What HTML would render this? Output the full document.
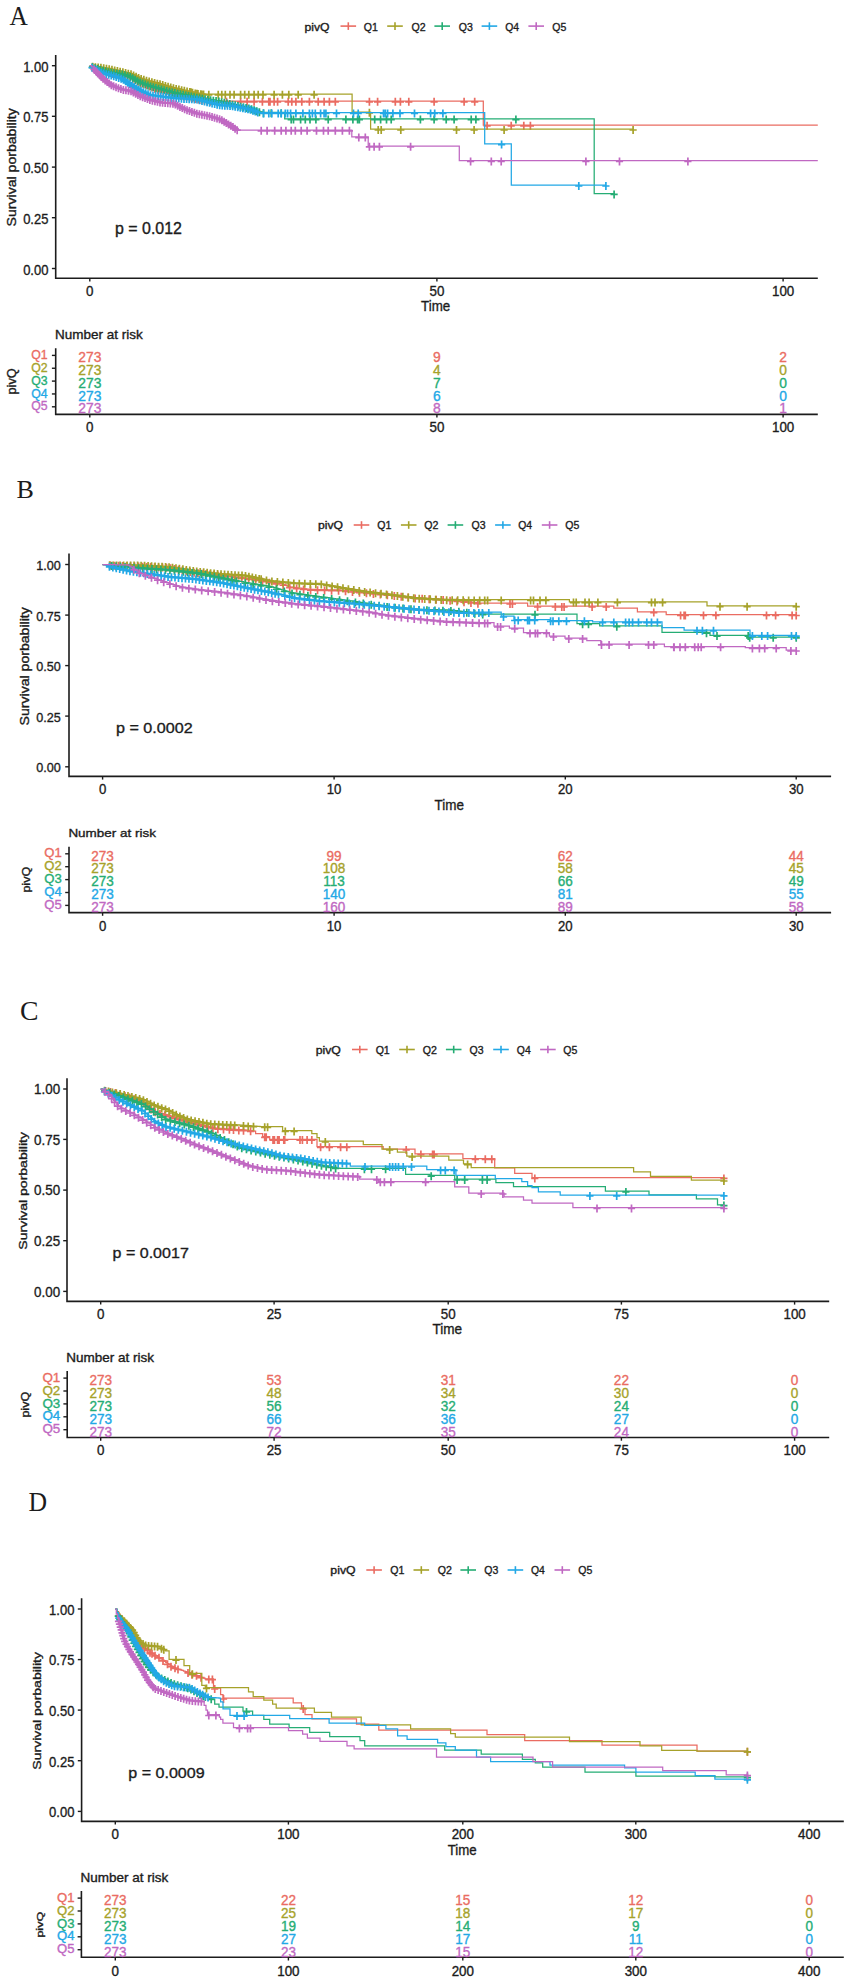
<!DOCTYPE html><html><head><meta charset="utf-8"><style>html,body{margin:0;padding:0;background:#fff;}svg{display:block}</style></head><body>
<svg width="850" height="1982" viewBox="0 0 850 1982">
<rect width="850" height="1982" fill="#fff"/>
<text transform="translate(9.45,24.70) scale(0.9207,1)" font-family="Liberation Serif" font-size="27.58" fill="#1c1c1c" stroke="#1c1c1c" stroke-width="0">A</text>
<text transform="translate(304.46,31.00) scale(1.0957,1)" font-family="Liberation Sans" font-size="11.13" fill="#1c1c1c" stroke="#1c1c1c" stroke-width="0.35">pivQ</text>
<line x1="340.50" y1="26.10" x2="356.10" y2="26.10" stroke="#EA6C62" stroke-width="1.6"/>
<line x1="348.30" y1="22.30" x2="348.30" y2="29.90" stroke="#EA6C62" stroke-width="1.6"/>
<text transform="translate(363.75,31.00) scale(0.9406,1)" font-family="Liberation Sans" font-size="11.25" fill="#1c1c1c" stroke="#1c1c1c" stroke-width="0.35">Q1</text>
<line x1="387.20" y1="26.10" x2="402.80" y2="26.10" stroke="#A6A22A" stroke-width="1.6"/>
<line x1="395.00" y1="22.30" x2="395.00" y2="29.90" stroke="#A6A22A" stroke-width="1.6"/>
<text transform="translate(411.55,31.00) scale(0.9425,1)" font-family="Liberation Sans" font-size="11.25" fill="#1c1c1c" stroke="#1c1c1c" stroke-width="0.35">Q2</text>
<line x1="434.40" y1="26.10" x2="450.00" y2="26.10" stroke="#25AD74" stroke-width="1.6"/>
<line x1="442.20" y1="22.30" x2="442.20" y2="29.90" stroke="#25AD74" stroke-width="1.6"/>
<text transform="translate(458.85,31.00) scale(0.9368,1)" font-family="Liberation Sans" font-size="11.25" fill="#1c1c1c" stroke="#1c1c1c" stroke-width="0.35">Q3</text>
<line x1="481.60" y1="26.10" x2="497.20" y2="26.10" stroke="#22A8E6" stroke-width="1.6"/>
<line x1="489.40" y1="22.30" x2="489.40" y2="29.90" stroke="#22A8E6" stroke-width="1.6"/>
<text transform="translate(505.26,31.00) scale(0.9256,1)" font-family="Liberation Sans" font-size="11.25" fill="#1c1c1c" stroke="#1c1c1c" stroke-width="0.35">Q4</text>
<line x1="528.40" y1="26.10" x2="544.00" y2="26.10" stroke="#C068C2" stroke-width="1.6"/>
<line x1="536.20" y1="22.30" x2="536.20" y2="29.90" stroke="#C068C2" stroke-width="1.6"/>
<text transform="translate(552.35,31.00) scale(0.9349,1)" font-family="Liberation Sans" font-size="11.25" fill="#1c1c1c" stroke="#1c1c1c" stroke-width="0.35">Q5</text>
<path d="M55.70,55.10 V278.20 H817.80" fill="none" stroke="#1c1c1c" stroke-width="1.6"/>
<line x1="51.90" y1="65.70" x2="55.70" y2="65.70" stroke="#1c1c1c" stroke-width="1.4"/>
<text transform="translate(48.40,71.75) scale(0.8546,1)" font-family="Liberation Sans" font-size="15.20" fill="#1c1c1c" stroke="#1c1c1c" stroke-width="0.35" text-anchor="end">1.00</text>
<line x1="51.90" y1="116.30" x2="55.70" y2="116.30" stroke="#1c1c1c" stroke-width="1.4"/>
<text transform="translate(48.40,122.35) scale(0.8546,1)" font-family="Liberation Sans" font-size="15.20" fill="#1c1c1c" stroke="#1c1c1c" stroke-width="0.35" text-anchor="end">0.75</text>
<line x1="51.90" y1="167.10" x2="55.70" y2="167.10" stroke="#1c1c1c" stroke-width="1.4"/>
<text transform="translate(48.40,173.15) scale(0.8546,1)" font-family="Liberation Sans" font-size="15.20" fill="#1c1c1c" stroke="#1c1c1c" stroke-width="0.35" text-anchor="end">0.50</text>
<line x1="51.90" y1="217.70" x2="55.70" y2="217.70" stroke="#1c1c1c" stroke-width="1.4"/>
<text transform="translate(48.40,223.75) scale(0.8546,1)" font-family="Liberation Sans" font-size="15.20" fill="#1c1c1c" stroke="#1c1c1c" stroke-width="0.35" text-anchor="end">0.25</text>
<line x1="51.90" y1="268.50" x2="55.70" y2="268.50" stroke="#1c1c1c" stroke-width="1.4"/>
<text transform="translate(48.40,274.55) scale(0.8546,1)" font-family="Liberation Sans" font-size="15.20" fill="#1c1c1c" stroke="#1c1c1c" stroke-width="0.35" text-anchor="end">0.00</text>
<line x1="89.80" y1="278.20" x2="89.80" y2="281.40" stroke="#1c1c1c" stroke-width="1.4"/>
<text transform="translate(89.80,295.80) scale(0.9330,1)" font-family="Liberation Sans" font-size="14.34" fill="#1c1c1c" stroke="#1c1c1c" stroke-width="0.35" text-anchor="middle">0</text>
<line x1="436.90" y1="278.20" x2="436.90" y2="281.40" stroke="#1c1c1c" stroke-width="1.4"/>
<text transform="translate(436.90,295.80) scale(0.9330,1)" font-family="Liberation Sans" font-size="14.34" fill="#1c1c1c" stroke="#1c1c1c" stroke-width="0.35" text-anchor="middle">50</text>
<line x1="783.10" y1="278.20" x2="783.10" y2="281.40" stroke="#1c1c1c" stroke-width="1.4"/>
<text transform="translate(783.10,295.80) scale(0.9330,1)" font-family="Liberation Sans" font-size="14.34" fill="#1c1c1c" stroke="#1c1c1c" stroke-width="0.35" text-anchor="middle">100</text>
<text transform="translate(421.10,311.40) scale(0.9633,1)" font-family="Liberation Sans" font-size="13.86" fill="#1c1c1c" stroke="#1c1c1c" stroke-width="0.35">Time</text>
<text transform="translate(16.00,226.43) rotate(-90) scale(1.1232,1)" font-family="Liberation Sans" font-size="12.55" fill="#1c1c1c" stroke="#1c1c1c" stroke-width="0.35">Survival porbability</text>
<text transform="translate(115.06,234.40) scale(1.0111,1)" font-family="Liberation Sans" font-size="15.77" fill="#1c1c1c" stroke="#1c1c1c" stroke-width="0.35">p = 0.012</text>
<path d="M89.80,65.70H91.45V66.24H93.10V66.78H94.75V67.31H96.40V67.85H98.05V68.39H99.70V68.92H101.35V69.46H103.00V70.00H104.50V70.50H106.00V71.00H107.50V71.50H109.00V72.00H110.50V72.50H112.00V73.00H113.57V73.29H115.14V73.57H116.71V73.86H118.29V74.14H119.86V74.43H121.43V74.71H123.00V75.00H124.60V75.40H126.20V75.80H127.80V76.20H129.40V76.60H131.00V77.00H132.50V77.83H134.00V78.67H135.50V79.50H137.00V80.33H138.50V81.17H140.00V82.00H141.67V82.67H143.33V83.33H145.00V84.00H146.67V84.67H148.33V85.33H150.00V86.00H151.67V86.67H153.33V87.33H155.00V88.00H156.67V88.67H158.33V89.33H160.00V90.00H161.67V90.42H163.33V90.83H165.00V91.25H166.67V91.67H168.33V92.08H170.00V92.50H171.67V92.92H173.33V93.33H175.00V93.75H176.67V94.17H178.33V94.58H180.00V95.00H181.67V95.33H183.33V95.67H185.00V96.00H186.67V96.33H188.33V96.67H190.00V97.00H191.67V97.33H193.33V97.67H195.00V98.00H196.67V98.33H198.33V98.67H200.00V99.00H201.57V99.29H203.14V99.57H204.71V99.86H206.29V100.14H207.86V100.43H209.43V100.71H211.00V101.00H483.30V125.00H817.80V125.00" fill="none" stroke="#EA6C62" stroke-width="1.25"/>
<path d="M89.05,67.43h7.2M92.65,63.43v8M91.90,68.36h7.2M95.50,64.36v8M94.76,69.29h7.2M98.36,65.29v8M97.61,70.22h7.2M101.21,66.22v8M100.46,71.15h7.2M104.06,67.15v8M103.31,72.10h7.2M106.91,68.10v8M106.15,73.05h7.2M109.75,69.05v8M109.02,73.91h7.2M112.62,69.91v8M111.97,74.45h7.2M115.57,70.45v8M114.92,74.99h7.2M118.52,70.99v8M117.88,75.52h7.2M121.48,71.52v8M120.81,76.15h7.2M124.41,72.15v8M123.72,76.88h7.2M127.32,72.88v8M126.63,77.61h7.2M130.23,73.61v8M129.33,78.87h7.2M132.93,74.87v8M131.95,80.33h7.2M135.55,76.33v8M134.57,81.78h7.2M138.17,77.78v8M137.24,83.14h7.2M140.84,79.14v8M140.03,84.25h7.2M143.63,80.25v8M142.81,85.37h7.2M146.41,81.37v8M145.60,86.48h7.2M149.20,82.48v8M148.39,87.59h7.2M151.99,83.59v8M151.17,88.71h7.2M154.77,84.71v8M153.96,89.82h7.2M157.56,85.82v8M156.76,90.89h7.2M160.36,86.89v8M159.67,91.62h7.2M163.27,87.62v8M162.58,92.34h7.2M166.18,88.34v8M165.49,93.07h7.2M169.09,89.07v8M168.40,93.80h7.2M172.00,89.80v8M171.31,94.53h7.2M174.91,90.53v8M174.22,95.25h7.2M177.82,91.25v8M177.14,95.95h7.2M180.74,91.95v8M180.08,96.54h7.2M183.68,92.54v8M183.02,97.12h7.2M186.62,93.12v8M185.96,97.71h7.2M189.56,93.71v8M188.90,98.30h7.2M192.50,94.30v8M191.85,98.89h7.2M195.45,94.89v8M194.79,99.48h7.2M198.39,95.48v8M197.73,100.04h7.2M201.33,96.04v8M200.69,100.58h7.2M204.29,96.58v8M203.64,101.12h7.2M207.24,97.12v8M206.59,101.65h7.2M210.19,97.65v8M222.90,101.80h7.2M226.50,97.80v8M237.00,101.80h7.2M240.60,97.80v8M243.50,101.80h7.2M247.10,97.80v8M250.50,101.80h7.2M254.10,97.80v8M258.80,101.80h7.2M262.40,97.80v8M265.20,101.80h7.2M268.80,97.80v8M266.40,101.80h7.2M270.00,97.80v8M270.50,101.80h7.2M274.10,97.80v8M274.00,101.80h7.2M277.60,97.80v8M284.60,101.80h7.2M288.20,97.80v8M288.20,101.80h7.2M291.80,97.80v8M292.30,101.80h7.2M295.90,97.80v8M298.20,101.80h7.2M301.80,97.80v8M305.80,101.80h7.2M309.40,97.80v8M314.60,101.80h7.2M318.20,97.80v8M320.50,101.80h7.2M324.10,97.80v8M325.80,101.80h7.2M329.40,97.80v8M331.70,101.80h7.2M335.30,97.80v8M365.80,101.80h7.2M369.40,97.80v8M374.00,101.80h7.2M377.60,97.80v8M391.70,101.80h7.2M395.30,97.80v8M396.80,101.80h7.2M400.40,97.80v8M405.20,101.80h7.2M408.80,97.80v8M430.50,101.80h7.2M434.10,97.80v8M460.50,101.80h7.2M464.10,97.80v8M471.10,101.80h7.2M474.70,97.80v8M483.50,125.80h7.2M487.10,121.80v8M507.60,125.80h7.2M511.20,121.80v8M520.20,125.80h7.2M523.80,121.80v8M526.80,125.80h7.2M530.40,121.80v8" fill="none" stroke="#EA6C62" stroke-width="1.7"/>
<path d="M89.80,65.70H91.45V65.90H93.10V66.10H94.75V66.30H96.40V66.50H98.05V66.70H99.70V66.90H101.35V67.10H103.00V67.30H104.53V67.58H106.07V67.87H107.60V68.15H109.13V68.43H110.67V68.72H112.20V69.00H113.71V69.36H115.23V69.71H116.74V70.07H118.26V70.43H119.77V70.79H121.29V71.14H122.80V71.50H124.46V71.90H126.12V72.30H127.78V72.70H129.44V73.10H131.10V73.50H132.67V74.25H134.23V75.00H135.80V75.75H137.37V76.50H138.93V77.25H140.50V78.00H142.08V78.50H143.67V79.00H145.25V79.50H146.83V80.00H148.42V80.50H150.00V81.00H151.67V81.42H153.33V81.83H155.00V82.25H156.67V82.67H158.33V83.08H160.00V83.50H161.69V84.00H163.38V84.50H165.06V85.00H166.75V85.50H168.44V86.00H170.12V86.50H171.81V87.00H173.50V87.50H175.07V87.87H176.63V88.23H178.20V88.60H179.77V88.97H181.33V89.33H182.90V89.70H184.47V90.07H186.03V90.43H187.60V90.80H189.17V91.17H190.73V91.53H192.30V91.90H193.87V92.27H195.43V92.63H197.00V93.00H198.60V93.20H200.20V93.40H201.80V93.60H203.40V93.80H205.00V94.00H352.10V112.00H370.60V129.20H633.10V129.20" fill="none" stroke="#A6A22A" stroke-width="1.25"/>
<path d="M88.98,66.84h7.2M92.58,62.84v8M91.76,67.17h7.2M95.36,63.17v8M94.54,67.51h7.2M98.14,63.51v8M97.32,67.85h7.2M100.92,63.85v8M100.09,68.23h7.2M103.69,64.23v8M102.85,68.74h7.2M106.45,64.74v8M105.60,69.25h7.2M109.20,65.25v8M108.35,69.75h7.2M111.95,65.75v8M111.08,70.38h7.2M114.68,66.38v8M113.80,71.03h7.2M117.40,67.03v8M116.53,71.67h7.2M120.13,67.67v8M119.26,72.31h7.2M122.86,68.31v8M121.98,72.97h7.2M125.58,68.97v8M124.70,73.63h7.2M128.30,69.63v8M127.42,74.28h7.2M131.02,70.28v8M129.95,75.47h7.2M133.55,71.47v8M132.48,76.68h7.2M136.08,72.68v8M135.00,77.89h7.2M138.60,73.89v8M137.57,79.01h7.2M141.17,75.01v8M140.24,79.85h7.2M143.84,75.85v8M142.91,80.70h7.2M146.51,76.70v8M145.58,81.54h7.2M149.18,77.54v8M148.28,82.27h7.2M151.88,78.27v8M150.99,82.95h7.2M154.59,78.95v8M153.71,83.63h7.2M157.31,79.63v8M156.43,84.31h7.2M160.03,80.31v8M159.11,85.10h7.2M162.71,81.10v8M161.80,85.90h7.2M165.40,81.90v8M164.48,86.69h7.2M168.08,82.69v8M167.16,87.49h7.2M170.76,83.49v8M169.85,88.29h7.2M173.45,84.29v8M172.58,88.93h7.2M176.18,84.93v8M175.30,89.56h7.2M178.90,85.56v8M178.03,90.20h7.2M181.63,86.20v8M180.75,90.84h7.2M184.35,86.84v8M183.48,91.48h7.2M187.08,87.48v8M186.21,92.12h7.2M189.81,88.12v8M188.93,92.75h7.2M192.53,88.75v8M191.66,93.39h7.2M195.26,89.39v8M194.40,93.93h7.2M198.00,89.93v8M197.18,94.27h7.2M200.78,90.27v8M199.96,94.62h7.2M203.56,90.62v8M187.40,92.33h7.2M191.00,88.33v8M193.40,93.80h7.2M197.00,89.80v8M198.20,94.40h7.2M201.80,90.40v8M205.20,94.80h7.2M208.80,90.80v8M214.60,94.80h7.2M218.20,90.80v8M218.20,94.80h7.2M221.80,90.80v8M221.70,94.80h7.2M225.30,90.80v8M226.40,94.80h7.2M230.00,90.80v8M230.50,94.80h7.2M234.10,90.80v8M237.00,94.80h7.2M240.60,90.80v8M241.10,94.80h7.2M244.70,90.80v8M245.20,94.80h7.2M248.80,90.80v8M250.50,94.80h7.2M254.10,90.80v8M254.60,94.80h7.2M258.20,90.80v8M259.40,94.80h7.2M263.00,90.80v8M270.50,94.80h7.2M274.10,90.80v8M278.80,94.80h7.2M282.40,90.80v8M285.20,94.80h7.2M288.80,90.80v8M294.60,94.80h7.2M298.20,90.80v8M310.50,94.80h7.2M314.10,90.80v8M365.80,112.80h7.2M369.40,108.80v8M374.60,130.00h7.2M378.20,126.00v8M377.60,130.00h7.2M381.20,126.00v8M397.20,130.00h7.2M400.80,126.00v8M452.90,130.00h7.2M456.50,126.00v8M470.50,130.00h7.2M474.10,126.00v8M500.50,130.00h7.2M504.10,126.00v8M629.50,130.00h7.2M633.10,126.00v8" fill="none" stroke="#A6A22A" stroke-width="1.7"/>
<path d="M89.80,65.70H91.45V66.24H93.10V66.78H94.75V67.31H96.40V67.85H98.05V68.39H99.70V68.92H101.35V69.46H103.00V70.00H104.53V70.37H106.07V70.73H107.60V71.10H109.13V71.47H110.67V71.83H112.20V72.20H113.71V72.43H115.23V72.66H116.74V72.89H118.26V73.11H119.77V73.34H121.29V73.57H122.80V73.80H124.46V74.34H126.12V74.88H127.78V75.42H129.44V75.96H131.10V76.50H132.67V77.42H134.23V78.33H135.80V79.25H137.37V80.17H138.93V81.08H140.50V82.00H142.08V82.58H143.67V83.17H145.25V83.75H146.83V84.33H148.42V84.92H150.00V85.50H151.57V85.93H153.13V86.37H154.70V86.80H156.27V87.23H157.83V87.67H159.40V88.10H160.97V88.53H162.53V88.97H164.10V89.40H165.67V89.83H167.23V90.27H168.80V90.70H170.37V91.13H171.93V91.57H173.50V92.00H175.07V92.33H176.63V92.67H178.20V93.00H179.77V93.33H181.33V93.67H182.90V94.00H184.47V94.33H186.03V94.67H187.60V95.00H189.17V95.33H190.73V95.67H192.30V96.00H193.87V96.33H195.43V96.67H197.00V97.00H198.64V97.29H200.29V97.57H201.93V97.86H203.57V98.14H205.21V98.43H206.86V98.71H208.50V99.00H210.14V99.29H211.79V99.57H213.43V99.86H215.07V100.14H216.71V100.43H218.36V100.71H220.00V101.00H221.58V101.37H223.16V101.74H224.74V102.11H226.32V102.47H227.89V102.84H229.47V103.21H231.05V103.58H232.63V103.95H234.21V104.32H235.79V104.68H237.37V105.05H238.95V105.42H240.53V105.79H242.11V106.16H243.68V106.53H245.26V106.89H246.84V107.26H248.42V107.63H250.00V108.00H251.50V108.55H253.00V109.10H254.50V109.65H256.00V110.20H257.50V110.75H259.00V111.30H260.50V111.85H262.00V112.40H284.70V118.80H594.20V193.60H614.10V193.60" fill="none" stroke="#25AD74" stroke-width="1.25"/>
<path d="M88.86,67.37h7.2M92.46,63.37v8M91.52,68.23h7.2M95.12,64.23v8M94.19,69.10h7.2M97.79,65.10v8M96.85,69.97h7.2M100.45,65.97v8M99.51,70.83h7.2M103.11,66.83v8M102.24,71.48h7.2M105.84,67.48v8M104.96,72.13h7.2M108.56,68.13v8M107.68,72.78h7.2M111.28,68.78v8M110.44,73.28h7.2M114.04,69.28v8M113.21,73.70h7.2M116.81,69.70v8M115.97,74.11h7.2M119.57,70.11v8M118.74,74.53h7.2M122.34,70.53v8M121.42,75.32h7.2M125.02,71.32v8M124.09,76.19h7.2M127.69,72.19v8M126.75,77.06h7.2M130.35,73.06v8M129.23,78.31h7.2M132.83,74.31v8M131.65,79.73h7.2M135.25,75.73v8M134.07,81.14h7.2M137.67,77.14v8M136.48,82.56h7.2M140.08,78.56v8M139.08,83.60h7.2M142.68,79.60v8M141.70,84.57h7.2M145.30,80.57v8M144.33,85.54h7.2M147.93,81.54v8M146.97,86.46h7.2M150.57,82.46v8M149.67,87.20h7.2M153.27,83.20v8M152.37,87.95h7.2M155.97,83.95v8M155.07,88.70h7.2M158.67,84.70v8M157.77,89.44h7.2M161.37,85.44v8M160.47,90.19h7.2M164.07,86.19v8M163.17,90.94h7.2M166.77,86.94v8M165.86,91.68h7.2M169.46,87.68v8M168.56,92.43h7.2M172.16,88.43v8M171.28,93.09h7.2M174.88,89.09v8M174.02,93.68h7.2M177.62,89.68v8M176.76,94.26h7.2M180.36,90.26v8M179.50,94.84h7.2M183.10,90.84v8M182.24,95.42h7.2M185.84,91.42v8M184.97,96.01h7.2M188.57,92.01v8M187.71,96.59h7.2M191.31,92.59v8M190.45,97.17h7.2M194.05,93.17v8M193.19,97.76h7.2M196.79,93.76v8M195.95,98.24h7.2M199.55,94.24v8M198.71,98.72h7.2M202.31,94.72v8M201.47,99.20h7.2M205.07,95.20v8M204.22,99.68h7.2M207.82,95.68v8M206.98,100.16h7.2M210.58,96.16v8M209.74,100.64h7.2M213.34,96.64v8M212.50,101.12h7.2M216.10,97.12v8M215.26,101.60h7.2M218.86,97.60v8M218.00,102.17h7.2M221.60,98.17v8M220.72,102.81h7.2M224.32,98.81v8M223.45,103.45h7.2M227.05,99.45v8M226.18,104.08h7.2M229.78,100.08v8M228.91,104.72h7.2M232.51,100.72v8M231.63,105.35h7.2M235.23,101.35v8M234.36,105.99h7.2M237.96,101.99v8M237.09,106.63h7.2M240.69,102.63v8M239.81,107.26h7.2M243.41,103.26v8M242.54,107.90h7.2M246.14,103.90v8M245.27,108.54h7.2M248.87,104.54v8M247.94,109.36h7.2M251.54,105.36v8M250.56,110.33h7.2M254.16,106.33v8M253.19,111.29h7.2M256.79,107.29v8M255.82,112.25h7.2M259.42,108.25v8M259.90,113.20h7.2M263.50,109.20v8M267.60,113.20h7.2M271.20,109.20v8M277.60,113.20h7.2M281.20,109.20v8M287.60,119.60h7.2M291.20,115.60v8M289.90,119.60h7.2M293.50,115.60v8M297.00,119.60h7.2M300.60,115.60v8M301.70,119.60h7.2M305.30,115.60v8M306.40,119.60h7.2M310.00,115.60v8M312.30,119.60h7.2M315.90,115.60v8M324.60,119.60h7.2M328.20,115.60v8M342.30,119.60h7.2M345.90,115.60v8M349.30,119.60h7.2M352.90,115.60v8M354.00,119.60h7.2M357.60,115.60v8M355.80,119.60h7.2M359.40,115.60v8M371.10,119.60h7.2M374.70,115.60v8M377.00,119.60h7.2M380.60,115.60v8M382.90,119.60h7.2M386.50,115.60v8M387.60,119.60h7.2M391.20,115.60v8M416.80,119.60h7.2M420.40,115.60v8M430.50,119.60h7.2M434.10,115.60v8M442.60,119.60h7.2M446.20,115.60v8M450.50,119.60h7.2M454.10,115.60v8M467.60,119.60h7.2M471.20,115.60v8M472.30,119.60h7.2M475.90,115.60v8M512.30,119.60h7.2M515.90,115.60v8M610.50,194.40h7.2M614.10,190.40v8" fill="none" stroke="#25AD74" stroke-width="1.7"/>
<path d="M89.80,65.70H91.45V66.55H93.10V67.40H94.75V68.25H96.40V69.10H98.05V69.95H99.70V70.80H101.35V71.65H103.00V72.50H104.53V72.92H106.07V73.33H107.60V73.75H109.13V74.17H110.67V74.58H112.20V75.00H113.71V75.50H115.23V76.00H116.74V76.50H118.26V77.00H119.77V77.50H121.29V78.00H122.80V78.50H124.46V79.70H126.12V80.90H127.78V82.10H129.44V83.30H131.10V84.50H132.67V85.42H134.23V86.33H135.80V87.25H137.37V88.17H138.93V89.08H140.50V90.00H142.08V90.75H143.67V91.50H145.25V92.25H146.83V93.00H148.42V93.75H150.00V94.50H151.57V94.70H153.13V94.90H154.70V95.10H156.27V95.30H157.83V95.50H159.40V95.70H160.97V95.90H162.53V96.10H164.10V96.30H165.67V96.50H167.23V96.70H168.80V96.90H170.37V97.10H171.93V97.30H173.50V97.50H175.07V97.59H176.63V97.67H178.20V97.76H179.77V97.85H181.33V97.93H182.90V98.02H184.47V98.11H186.03V98.19H187.60V98.28H189.17V98.37H190.73V98.45H192.30V98.54H193.87V98.63H195.43V98.71H197.00V98.80H198.69V99.23H200.37V99.66H202.06V100.09H203.74V100.51H205.43V100.94H207.11V101.37H208.80V101.80H210.49V102.21H212.17V102.63H213.86V103.04H215.54V103.46H217.23V103.87H218.91V104.29H220.60V104.70H222.29V104.79H223.97V104.87H225.66V104.96H227.34V105.04H229.03V105.13H230.71V105.21H232.40V105.30H234.00V105.62H235.60V105.94H237.20V106.25H238.80V106.57H240.40V106.89H242.00V107.21H243.60V107.53H245.20V107.85H246.80V108.16H248.40V108.48H250.00V108.80H251.67V109.43H253.33V110.07H255.00V110.70H256.67V111.33H258.33V111.97H260.00V112.60H484.70V143.80H511.30V185.20H605.90V185.20" fill="none" stroke="#22A8E6" stroke-width="1.25"/>
<path d="M88.51,67.69h7.2M92.11,63.69v8M90.82,68.88h7.2M94.42,64.88v8M93.13,70.07h7.2M96.73,66.07v8M95.45,71.26h7.2M99.05,67.26v8M97.76,72.45h7.2M101.36,68.45v8M100.13,73.50h7.2M103.73,69.50v8M102.63,74.18h7.2M106.23,70.18v8M105.14,74.86h7.2M108.74,70.86v8M107.65,75.54h7.2M111.25,71.54v8M110.14,76.31h7.2M113.74,72.31v8M112.61,77.12h7.2M116.21,73.12v8M115.07,77.94h7.2M118.67,73.94v8M117.54,78.75h7.2M121.14,74.75v8M119.89,79.80h7.2M123.49,75.80v8M122.00,81.32h7.2M125.60,77.32v8M124.11,82.85h7.2M127.71,78.85v8M126.21,84.37h7.2M129.81,80.37v8M128.37,85.81h7.2M131.97,81.81v8M130.62,87.12h7.2M134.22,83.12v8M132.86,88.44h7.2M136.46,84.44v8M135.11,89.75h7.2M138.71,85.75v8M137.37,91.02h7.2M140.97,87.02v8M139.72,92.14h7.2M143.32,88.14v8M142.07,93.25h7.2M145.67,89.25v8M144.42,94.36h7.2M148.02,90.36v8M146.81,95.35h7.2M150.41,91.35v8M149.39,95.68h7.2M152.99,91.68v8M151.97,96.01h7.2M155.57,92.01v8M154.54,96.34h7.2M158.14,92.34v8M157.12,96.67h7.2M160.72,92.67v8M159.70,97.00h7.2M163.30,93.00v8M162.28,97.33h7.2M165.88,93.33v8M164.86,97.66h7.2M168.46,93.66v8M167.44,97.99h7.2M171.04,93.99v8M170.02,98.31h7.2M173.62,94.31v8M172.62,98.45h7.2M176.22,94.45v8M175.21,98.59h7.2M178.81,94.59v8M177.81,98.74h7.2M181.41,94.74v8M180.40,98.88h7.2M184.00,94.88v8M183.00,99.02h7.2M186.60,95.02v8M185.60,99.17h7.2M189.20,95.17v8M188.19,99.31h7.2M191.79,95.31v8M190.79,99.46h7.2M194.39,95.46v8M193.38,99.60h7.2M196.98,95.60v8M195.90,100.24h7.2M199.50,96.24v8M198.42,100.88h7.2M202.02,96.88v8M200.94,101.52h7.2M204.54,97.52v8M203.46,102.16h7.2M207.06,98.16v8M205.99,102.79h7.2M209.59,98.79v8M208.51,103.41h7.2M212.11,99.41v8M211.03,104.03h7.2M214.63,100.03v8M213.56,104.65h7.2M217.16,100.65v8M216.08,105.28h7.2M219.68,101.28v8M218.66,105.58h7.2M222.26,101.58v8M221.25,105.72h7.2M224.85,101.72v8M223.85,105.85h7.2M227.45,101.85v8M226.45,105.98h7.2M230.05,101.98v8M229.04,106.15h7.2M232.64,102.15v8M231.59,106.65h7.2M235.19,102.65v8M234.14,107.16h7.2M237.74,103.16v8M236.69,107.67h7.2M240.29,103.67v8M239.24,108.18h7.2M242.84,104.18v8M241.79,108.68h7.2M245.39,104.68v8M244.34,109.19h7.2M247.94,105.19v8M246.87,109.78h7.2M250.47,105.78v8M249.30,110.70h7.2M252.90,106.70v8M251.73,111.62h7.2M255.33,107.62v8M254.16,112.55h7.2M257.76,108.55v8M259.90,113.40h7.2M263.50,109.40v8M265.20,113.40h7.2M268.80,109.40v8M268.20,113.40h7.2M271.80,109.40v8M274.60,113.40h7.2M278.20,109.40v8M277.60,113.40h7.2M281.20,109.40v8M281.70,113.40h7.2M285.30,109.40v8M284.00,113.40h7.2M287.60,109.40v8M287.00,113.40h7.2M290.60,109.40v8M292.30,113.40h7.2M295.90,109.40v8M299.30,113.40h7.2M302.90,109.40v8M305.80,113.40h7.2M309.40,109.40v8M308.80,113.40h7.2M312.40,109.40v8M311.70,113.40h7.2M315.30,109.40v8M317.00,113.40h7.2M320.60,109.40v8M320.50,113.40h7.2M324.10,109.40v8M322.30,113.40h7.2M325.90,109.40v8M332.90,113.40h7.2M336.50,109.40v8M349.90,113.40h7.2M353.50,109.40v8M354.60,113.40h7.2M358.20,109.40v8M379.90,113.40h7.2M383.50,109.40v8M381.70,113.40h7.2M385.30,109.40v8M384.00,113.40h7.2M387.60,109.40v8M389.30,113.40h7.2M392.90,109.40v8M396.40,113.40h7.2M400.00,109.40v8M410.90,113.40h7.2M414.50,109.40v8M427.00,113.40h7.2M430.60,109.40v8M431.10,113.40h7.2M434.70,109.40v8M439.30,113.40h7.2M442.90,109.40v8M498.00,144.60h7.2M501.60,140.60v8M575.20,186.00h7.2M578.80,182.00v8M602.30,186.00h7.2M605.90,182.00v8" fill="none" stroke="#22A8E6" stroke-width="1.7"/>
<path d="M89.80,65.70H91.60V66.85H93.40V68.00H95.00V69.67H96.60V71.33H98.20V73.00H99.80V74.67H101.40V76.33H103.00V78.00H104.53V79.17H106.07V80.33H107.60V81.50H109.13V82.67H110.67V83.83H112.20V85.00H113.71V85.57H115.23V86.14H116.74V86.71H118.26V87.29H119.77V87.86H121.29V88.43H122.80V89.00H124.46V89.30H126.12V89.60H127.78V89.90H129.44V90.20H131.10V90.50H132.67V91.33H134.23V92.17H135.80V93.00H137.37V93.83H138.93V94.67H140.50V95.50H142.08V96.13H143.67V96.77H145.25V97.40H146.83V98.03H148.42V98.67H150.00V99.30H151.69V99.69H153.37V100.07H155.06V100.46H156.74V100.84H158.43V101.23H160.11V101.61H161.80V102.00H163.47V102.13H165.14V102.26H166.81V102.39H168.49V102.51H170.16V102.64H171.83V102.77H173.50V102.90H175.19V103.74H176.87V104.59H178.56V105.43H180.24V106.27H181.93V107.11H183.61V107.96H185.30V108.80H186.97V109.39H188.64V109.97H190.31V110.56H191.99V111.14H193.66V111.73H195.33V112.31H197.00V112.90H198.69V113.24H200.37V113.59H202.06V113.93H203.74V114.27H205.43V114.61H207.11V114.96H208.80V115.30H210.49V115.80H212.17V116.30H213.86V116.80H215.54V117.30H217.23V117.80H218.91V118.30H220.60V118.80H222.29V119.81H223.97V120.83H225.66V121.84H227.34V122.86H229.03V123.87H230.71V124.89H232.40V125.90H234.27V127.27H236.13V128.63H238.00V130.00H351.80V136.80H368.20V146.00H459.30V160.70H817.80V160.70" fill="none" stroke="#C068C2" stroke-width="1.25"/>
<path d="M90.44,69.47h7.2M94.04,65.47v8M92.24,71.35h7.2M95.84,67.35v8M94.04,73.22h7.2M97.64,69.22v8M95.84,75.10h7.2M99.44,71.10v8M97.64,76.97h7.2M101.24,72.97v8M99.45,78.84h7.2M103.05,74.84v8M101.52,80.41h7.2M105.12,76.41v8M103.59,81.99h7.2M107.19,77.99v8M105.66,83.56h7.2M109.26,79.56v8M107.73,85.14h7.2M111.33,81.14v8M110.01,86.33h7.2M113.61,82.33v8M112.44,87.25h7.2M116.04,83.25v8M114.87,88.17h7.2M118.47,84.17v8M117.31,89.09h7.2M120.91,85.09v8M119.77,89.90h7.2M123.37,85.90v8M122.33,90.36h7.2M125.93,86.36v8M124.88,90.83h7.2M128.48,86.83v8M127.44,91.29h7.2M131.04,87.29v8M129.74,92.49h7.2M133.34,88.49v8M132.04,93.71h7.2M135.64,89.71v8M134.33,94.94h7.2M137.93,90.94v8M136.63,96.16h7.2M140.23,92.16v8M139.03,97.15h7.2M142.63,93.15v8M141.44,98.12h7.2M145.04,94.12v8M143.86,99.08h7.2M147.46,95.08v8M146.27,100.05h7.2M149.87,96.05v8M148.80,100.65h7.2M152.40,96.65v8M151.34,101.23h7.2M154.94,97.23v8M153.87,101.81h7.2M157.47,97.81v8M156.40,102.39h7.2M160.00,98.39v8M158.96,102.86h7.2M162.56,98.86v8M161.55,103.06h7.2M165.15,99.06v8M164.14,103.26h7.2M167.74,99.26v8M166.73,103.46h7.2M170.33,99.46v8M169.32,103.66h7.2M172.92,99.66v8M171.71,104.60h7.2M175.31,100.60v8M174.04,105.77h7.2M177.64,101.77v8M176.36,106.93h7.2M179.96,102.93v8M178.69,108.09h7.2M182.29,104.09v8M181.01,109.26h7.2M184.61,105.26v8M183.43,110.21h7.2M187.03,106.21v8M185.88,111.07h7.2M189.48,107.07v8M188.33,111.92h7.2M191.93,107.92v8M190.79,112.78h7.2M194.39,108.78v8M193.24,113.64h7.2M196.84,109.64v8M195.78,114.18h7.2M199.38,110.18v8M198.33,114.70h7.2M201.93,110.70v8M200.88,115.22h7.2M204.48,111.22v8M203.43,115.74h7.2M207.03,111.74v8M205.96,116.32h7.2M209.56,112.32v8M208.45,117.06h7.2M212.05,113.06v8M210.94,117.80h7.2M214.54,113.80v8M213.44,118.54h7.2M217.04,114.54v8M215.93,119.28h7.2M219.53,115.28v8M218.27,120.36h7.2M221.87,116.36v8M220.50,121.71h7.2M224.10,117.71v8M222.73,123.05h7.2M226.33,119.05v8M224.95,124.39h7.2M228.55,120.39v8M227.18,125.73h7.2M230.78,121.73v8M229.37,127.12h7.2M232.97,123.12v8M231.47,128.66h7.2M235.07,124.66v8M233.57,130.19h7.2M237.17,126.19v8M257.60,130.80h7.2M261.20,126.80v8M263.50,130.80h7.2M267.10,126.80v8M271.10,130.80h7.2M274.70,126.80v8M277.60,130.80h7.2M281.20,126.80v8M282.30,130.80h7.2M285.90,126.80v8M287.60,130.80h7.2M291.20,126.80v8M291.70,130.80h7.2M295.30,126.80v8M297.60,130.80h7.2M301.20,126.80v8M303.50,130.80h7.2M307.10,126.80v8M312.90,130.80h7.2M316.50,126.80v8M319.90,130.80h7.2M323.50,126.80v8M324.60,130.80h7.2M328.20,126.80v8M331.70,130.80h7.2M335.30,126.80v8M338.80,130.80h7.2M342.40,126.80v8M345.80,130.80h7.2M349.40,126.80v8M355.20,137.60h7.2M358.80,133.60v8M361.70,137.60h7.2M365.30,133.60v8M365.80,146.80h7.2M369.40,142.80v8M370.50,146.80h7.2M374.10,142.80v8M375.80,146.80h7.2M379.40,142.80v8M407.00,146.80h7.2M410.60,142.80v8M467.00,161.50h7.2M470.60,157.50v8M487.70,161.50h7.2M491.30,157.50v8M497.60,161.50h7.2M501.20,157.50v8M582.30,161.50h7.2M585.90,157.50v8M615.90,161.50h7.2M619.50,157.50v8M684.30,161.50h7.2M687.90,157.50v8" fill="none" stroke="#C068C2" stroke-width="1.7"/>
<text transform="translate(54.99,338.50) scale(1.0566,1)" font-family="Liberation Sans" font-size="12.77" fill="#1c1c1c" stroke="#1c1c1c" stroke-width="0.35">Number at risk</text>
<path d="M55.70,348.30 V414.40 H817.80" fill="none" stroke="#1c1c1c" stroke-width="1.6"/>
<line x1="51.90" y1="355.40" x2="55.70" y2="355.40" stroke="#1c1c1c" stroke-width="1.4"/>
<text transform="translate(47.70,359.00) scale(0.9626,1)" font-family="Liberation Sans" font-size="12.76" fill="#EA6C62" stroke="#EA6C62" stroke-width="0.35" text-anchor="end">Q1</text>
<text transform="translate(89.80,361.95) scale(0.9654,1)" font-family="Liberation Sans" font-size="14.34" fill="#EA6C62" stroke="#EA6C62" stroke-width="0.35" text-anchor="middle">273</text>
<text transform="translate(436.90,361.95) scale(0.9654,1)" font-family="Liberation Sans" font-size="14.34" fill="#EA6C62" stroke="#EA6C62" stroke-width="0.35" text-anchor="middle">9</text>
<text transform="translate(783.10,361.95) scale(0.9654,1)" font-family="Liberation Sans" font-size="14.34" fill="#EA6C62" stroke="#EA6C62" stroke-width="0.35" text-anchor="middle">2</text>
<line x1="51.90" y1="368.25" x2="55.70" y2="368.25" stroke="#1c1c1c" stroke-width="1.4"/>
<text transform="translate(47.70,371.85) scale(0.9626,1)" font-family="Liberation Sans" font-size="12.76" fill="#A6A22A" stroke="#A6A22A" stroke-width="0.35" text-anchor="end">Q2</text>
<text transform="translate(89.80,374.80) scale(0.9654,1)" font-family="Liberation Sans" font-size="14.34" fill="#A6A22A" stroke="#A6A22A" stroke-width="0.35" text-anchor="middle">273</text>
<text transform="translate(436.90,374.80) scale(0.9654,1)" font-family="Liberation Sans" font-size="14.34" fill="#A6A22A" stroke="#A6A22A" stroke-width="0.35" text-anchor="middle">4</text>
<text transform="translate(783.10,374.80) scale(0.9654,1)" font-family="Liberation Sans" font-size="14.34" fill="#A6A22A" stroke="#A6A22A" stroke-width="0.35" text-anchor="middle">0</text>
<line x1="51.90" y1="381.10" x2="55.70" y2="381.10" stroke="#1c1c1c" stroke-width="1.4"/>
<text transform="translate(47.70,384.70) scale(0.9626,1)" font-family="Liberation Sans" font-size="12.76" fill="#25AD74" stroke="#25AD74" stroke-width="0.35" text-anchor="end">Q3</text>
<text transform="translate(89.80,387.65) scale(0.9654,1)" font-family="Liberation Sans" font-size="14.34" fill="#25AD74" stroke="#25AD74" stroke-width="0.35" text-anchor="middle">273</text>
<text transform="translate(436.90,387.65) scale(0.9654,1)" font-family="Liberation Sans" font-size="14.34" fill="#25AD74" stroke="#25AD74" stroke-width="0.35" text-anchor="middle">7</text>
<text transform="translate(783.10,387.65) scale(0.9654,1)" font-family="Liberation Sans" font-size="14.34" fill="#25AD74" stroke="#25AD74" stroke-width="0.35" text-anchor="middle">0</text>
<line x1="51.90" y1="393.95" x2="55.70" y2="393.95" stroke="#1c1c1c" stroke-width="1.4"/>
<text transform="translate(47.70,397.55) scale(0.9626,1)" font-family="Liberation Sans" font-size="12.76" fill="#22A8E6" stroke="#22A8E6" stroke-width="0.35" text-anchor="end">Q4</text>
<text transform="translate(89.80,400.50) scale(0.9654,1)" font-family="Liberation Sans" font-size="14.34" fill="#22A8E6" stroke="#22A8E6" stroke-width="0.35" text-anchor="middle">273</text>
<text transform="translate(436.90,400.50) scale(0.9654,1)" font-family="Liberation Sans" font-size="14.34" fill="#22A8E6" stroke="#22A8E6" stroke-width="0.35" text-anchor="middle">6</text>
<text transform="translate(783.10,400.50) scale(0.9654,1)" font-family="Liberation Sans" font-size="14.34" fill="#22A8E6" stroke="#22A8E6" stroke-width="0.35" text-anchor="middle">0</text>
<line x1="51.90" y1="406.80" x2="55.70" y2="406.80" stroke="#1c1c1c" stroke-width="1.4"/>
<text transform="translate(47.70,410.40) scale(0.9626,1)" font-family="Liberation Sans" font-size="12.76" fill="#C068C2" stroke="#C068C2" stroke-width="0.35" text-anchor="end">Q5</text>
<text transform="translate(89.80,413.35) scale(0.9654,1)" font-family="Liberation Sans" font-size="14.34" fill="#C068C2" stroke="#C068C2" stroke-width="0.35" text-anchor="middle">273</text>
<text transform="translate(436.90,413.35) scale(0.9654,1)" font-family="Liberation Sans" font-size="14.34" fill="#C068C2" stroke="#C068C2" stroke-width="0.35" text-anchor="middle">8</text>
<text transform="translate(783.10,413.35) scale(0.9654,1)" font-family="Liberation Sans" font-size="14.34" fill="#C068C2" stroke="#C068C2" stroke-width="0.35" text-anchor="middle">1</text>
<line x1="89.80" y1="414.40" x2="89.80" y2="417.60" stroke="#1c1c1c" stroke-width="1.4"/>
<text transform="translate(89.80,432.40) scale(0.9330,1)" font-family="Liberation Sans" font-size="14.34" fill="#1c1c1c" stroke="#1c1c1c" stroke-width="0.35" text-anchor="middle">0</text>
<line x1="436.90" y1="414.40" x2="436.90" y2="417.60" stroke="#1c1c1c" stroke-width="1.4"/>
<text transform="translate(436.90,432.40) scale(0.9330,1)" font-family="Liberation Sans" font-size="14.34" fill="#1c1c1c" stroke="#1c1c1c" stroke-width="0.35" text-anchor="middle">50</text>
<line x1="783.10" y1="414.40" x2="783.10" y2="417.60" stroke="#1c1c1c" stroke-width="1.4"/>
<text transform="translate(783.10,432.40) scale(0.9330,1)" font-family="Liberation Sans" font-size="14.34" fill="#1c1c1c" stroke="#1c1c1c" stroke-width="0.35" text-anchor="middle">100</text>
<text transform="translate(15.97,394.53) rotate(-90) scale(1.0089,1)" font-family="Liberation Sans" font-size="12.65" fill="#1c1c1c" stroke="#1c1c1c" stroke-width="0.35">pivQ</text>
<text transform="translate(16.42,497.80) scale(1.0093,1)" font-family="Liberation Serif" font-size="25.80" fill="#1c1c1c" stroke="#1c1c1c" stroke-width="0">B</text>
<text transform="translate(317.96,529.40) scale(1.1244,1)" font-family="Liberation Sans" font-size="10.85" fill="#1c1c1c" stroke="#1c1c1c" stroke-width="0.35">pivQ</text>
<line x1="353.70" y1="525.00" x2="369.30" y2="525.00" stroke="#EA6C62" stroke-width="1.6"/>
<line x1="361.50" y1="521.20" x2="361.50" y2="528.80" stroke="#EA6C62" stroke-width="1.6"/>
<text transform="translate(377.35,529.40) scale(0.9652,1)" font-family="Liberation Sans" font-size="10.97" fill="#1c1c1c" stroke="#1c1c1c" stroke-width="0.35">Q1</text>
<line x1="400.90" y1="525.00" x2="416.50" y2="525.00" stroke="#A6A22A" stroke-width="1.6"/>
<line x1="408.70" y1="521.20" x2="408.70" y2="528.80" stroke="#A6A22A" stroke-width="1.6"/>
<text transform="translate(424.15,529.40) scale(0.9671,1)" font-family="Liberation Sans" font-size="10.97" fill="#1c1c1c" stroke="#1c1c1c" stroke-width="0.35">Q2</text>
<line x1="447.60" y1="525.00" x2="463.20" y2="525.00" stroke="#25AD74" stroke-width="1.6"/>
<line x1="455.40" y1="521.20" x2="455.40" y2="528.80" stroke="#25AD74" stroke-width="1.6"/>
<text transform="translate(471.55,529.40) scale(0.9613,1)" font-family="Liberation Sans" font-size="10.97" fill="#1c1c1c" stroke="#1c1c1c" stroke-width="0.35">Q3</text>
<line x1="495.10" y1="525.00" x2="510.70" y2="525.00" stroke="#22A8E6" stroke-width="1.6"/>
<line x1="502.90" y1="521.20" x2="502.90" y2="528.80" stroke="#22A8E6" stroke-width="1.6"/>
<text transform="translate(518.26,529.40) scale(0.9498,1)" font-family="Liberation Sans" font-size="10.97" fill="#1c1c1c" stroke="#1c1c1c" stroke-width="0.35">Q4</text>
<line x1="541.80" y1="525.00" x2="557.40" y2="525.00" stroke="#C068C2" stroke-width="1.6"/>
<line x1="549.60" y1="521.20" x2="549.60" y2="528.80" stroke="#C068C2" stroke-width="1.6"/>
<text transform="translate(565.35,529.40) scale(0.9594,1)" font-family="Liberation Sans" font-size="10.97" fill="#1c1c1c" stroke="#1c1c1c" stroke-width="0.35">Q5</text>
<path d="M69.00,553.40 V776.40 H831.10" fill="none" stroke="#1c1c1c" stroke-width="1.6"/>
<line x1="65.20" y1="564.50" x2="69.00" y2="564.50" stroke="#1c1c1c" stroke-width="1.4"/>
<text transform="translate(60.80,569.95) scale(0.9354,1)" font-family="Liberation Sans" font-size="13.48" fill="#1c1c1c" stroke="#1c1c1c" stroke-width="0.35" text-anchor="end">1.00</text>
<line x1="65.20" y1="615.10" x2="69.00" y2="615.10" stroke="#1c1c1c" stroke-width="1.4"/>
<text transform="translate(60.80,620.55) scale(0.9354,1)" font-family="Liberation Sans" font-size="13.48" fill="#1c1c1c" stroke="#1c1c1c" stroke-width="0.35" text-anchor="end">0.75</text>
<line x1="65.20" y1="665.60" x2="69.00" y2="665.60" stroke="#1c1c1c" stroke-width="1.4"/>
<text transform="translate(60.80,671.05) scale(0.9354,1)" font-family="Liberation Sans" font-size="13.48" fill="#1c1c1c" stroke="#1c1c1c" stroke-width="0.35" text-anchor="end">0.50</text>
<line x1="65.20" y1="716.10" x2="69.00" y2="716.10" stroke="#1c1c1c" stroke-width="1.4"/>
<text transform="translate(60.80,721.55) scale(0.9354,1)" font-family="Liberation Sans" font-size="13.48" fill="#1c1c1c" stroke="#1c1c1c" stroke-width="0.35" text-anchor="end">0.25</text>
<line x1="65.20" y1="766.80" x2="69.00" y2="766.80" stroke="#1c1c1c" stroke-width="1.4"/>
<text transform="translate(60.80,772.25) scale(0.9354,1)" font-family="Liberation Sans" font-size="13.48" fill="#1c1c1c" stroke="#1c1c1c" stroke-width="0.35" text-anchor="end">0.00</text>
<line x1="102.60" y1="776.40" x2="102.60" y2="779.60" stroke="#1c1c1c" stroke-width="1.4"/>
<text transform="translate(102.60,794.40) scale(0.9104,1)" font-family="Liberation Sans" font-size="14.48" fill="#1c1c1c" stroke="#1c1c1c" stroke-width="0.35" text-anchor="middle">0</text>
<line x1="334.10" y1="776.40" x2="334.10" y2="779.60" stroke="#1c1c1c" stroke-width="1.4"/>
<text transform="translate(334.10,794.40) scale(0.9104,1)" font-family="Liberation Sans" font-size="14.48" fill="#1c1c1c" stroke="#1c1c1c" stroke-width="0.35" text-anchor="middle">10</text>
<line x1="565.30" y1="776.40" x2="565.30" y2="779.60" stroke="#1c1c1c" stroke-width="1.4"/>
<text transform="translate(565.30,794.40) scale(0.9104,1)" font-family="Liberation Sans" font-size="14.48" fill="#1c1c1c" stroke="#1c1c1c" stroke-width="0.35" text-anchor="middle">20</text>
<line x1="796.20" y1="776.40" x2="796.20" y2="779.60" stroke="#1c1c1c" stroke-width="1.4"/>
<text transform="translate(796.20,794.40) scale(0.9104,1)" font-family="Liberation Sans" font-size="14.48" fill="#1c1c1c" stroke="#1c1c1c" stroke-width="0.35" text-anchor="middle">30</text>
<text transform="translate(434.60,809.90) scale(0.9048,1)" font-family="Liberation Sans" font-size="14.86" fill="#1c1c1c" stroke="#1c1c1c" stroke-width="0.35">Time</text>
<text transform="translate(29.13,725.43) rotate(-90) scale(1.1849,1)" font-family="Liberation Sans" font-size="11.90" fill="#1c1c1c" stroke="#1c1c1c" stroke-width="0.35">Survival porbability</text>
<text transform="translate(116.05,732.90) scale(1.0514,1)" font-family="Liberation Sans" font-size="15.34" fill="#1c1c1c" stroke="#1c1c1c" stroke-width="0.35">p = 0.0002</text>
<path d="M102.60,564.50H104.18V564.55H105.76V564.59H107.35V564.64H108.93V564.68H110.51V564.73H112.09V564.77H113.67V564.82H115.25V564.86H116.84V564.91H118.42V564.95H120.00V565.00H121.60V565.07H123.20V565.13H124.80V565.20H126.40V565.27H128.00V565.33H129.60V565.40H131.20V565.47H132.80V565.53H134.40V565.60H136.00V565.67H137.60V565.73H139.20V565.80H140.80V565.87H142.40V565.93H144.00V566.00H145.60V566.07H147.20V566.13H148.80V566.20H150.40V566.27H152.00V566.33H153.60V566.40H155.20V566.47H156.80V566.53H158.40V566.60H160.00V566.67H161.60V566.73H163.20V566.80H164.80V566.87H166.40V566.93H168.00V567.00H169.59V567.29H171.18V567.59H172.76V567.88H174.35V568.18H175.94V568.47H177.53V568.76H179.12V569.06H180.71V569.35H182.29V569.65H183.88V569.94H185.47V570.24H187.06V570.53H188.65V570.82H190.24V571.12H191.82V571.41H193.41V571.71H195.00V572.00H196.61V572.19H198.23V572.39H199.84V572.58H201.45V572.77H203.06V572.97H204.68V573.16H206.29V573.35H207.90V573.55H209.52V573.74H211.13V573.94H212.74V574.13H214.35V574.32H215.97V574.52H217.58V574.71H219.19V574.90H220.81V575.10H222.42V575.29H224.03V575.48H225.65V575.68H227.26V575.87H228.87V576.06H230.48V576.26H232.10V576.45H233.71V576.65H235.32V576.84H236.94V577.03H238.55V577.23H240.16V577.42H241.77V577.61H243.39V577.81H245.00V578.00H246.61V578.26H248.22V578.52H249.83V578.78H251.43V579.04H253.04V579.30H254.65V579.57H256.26V579.83H257.87V580.09H259.48V580.35H261.09V580.61H262.70V580.87H264.30V581.13H265.91V581.39H267.52V581.65H269.13V581.91H270.74V582.17H272.35V582.43H273.96V582.70H275.57V582.96H277.17V583.22H278.78V583.48H280.39V583.74H282.00V584.00H283.60V584.60H285.20V585.20H286.80V585.80H288.40V586.40H290.00V587.00H291.67V587.20H293.33V587.40H295.00V587.60H296.67V587.80H298.33V588.00H300.00V588.20H301.67V588.40H303.33V588.60H305.00V588.80H306.67V589.00H308.33V589.20H310.00V589.40H311.58V589.43H313.16V589.46H314.74V589.49H316.32V589.53H317.89V589.56H319.47V589.59H321.05V589.62H322.63V589.65H324.21V589.68H325.79V589.72H327.37V589.75H328.95V589.78H330.53V589.81H332.11V589.84H333.68V589.87H335.26V589.91H336.84V589.94H338.42V589.97H340.00V590.00H341.56V590.15H343.12V590.30H344.69V590.45H346.25V590.60H347.81V590.75H349.38V590.90H350.94V591.05H352.50V591.20H354.06V591.35H355.62V591.50H357.19V591.65H358.75V591.80H360.31V591.95H361.88V592.10H363.44V592.25H365.00V592.40H366.56V592.54H368.12V592.69H369.69V592.83H371.25V592.98H372.81V593.12H374.38V593.26H375.94V593.41H377.50V593.55H379.06V593.69H380.62V593.84H382.19V593.98H383.75V594.12H385.31V594.27H386.88V594.41H388.44V594.56H390.00V594.70H391.56V594.88H393.12V595.06H394.69V595.24H396.25V595.43H397.81V595.61H399.38V595.79H400.94V595.97H402.50V596.15H404.06V596.33H405.62V596.51H407.19V596.69H408.75V596.88H410.31V597.06H411.88V597.24H413.44V597.42H415.00V597.60H416.58V597.69H418.16V597.79H419.74V597.88H421.32V597.98H422.89V598.07H424.47V598.17H426.05V598.26H427.63V598.36H429.21V598.45H430.79V598.55H432.37V598.64H433.95V598.74H435.53V598.83H437.11V598.93H438.68V599.02H440.26V599.12H441.84V599.21H443.42V599.31H445.00V599.40H446.59V599.57H448.18V599.75H449.77V599.92H451.36V600.09H452.95V600.26H454.55V600.44H456.14V600.61H457.73V600.78H459.32V600.95H460.91V601.13H462.50V601.30H464.09V601.47H465.68V601.65H467.27V601.82H468.86V601.99H470.45V602.16H472.05V602.34H473.64V602.51H475.23V602.68H476.82V602.85H478.41V603.03H480.00V603.20H527.60V606.20H613.80V608.20H637.40V611.80H666.20V614.70H796.20V614.70" fill="none" stroke="#EA6C62" stroke-width="1.25"/>
<path d="M107.00,565.53h7.2M110.60,561.53v8M111.00,565.64h7.2M114.60,561.64v8M114.99,565.76h7.2M118.59,561.76v8M118.99,565.91h7.2M122.59,561.91v8M122.99,566.07h7.2M126.59,562.07v8M126.98,566.24h7.2M130.58,562.24v8M130.98,566.41h7.2M134.58,562.41v8M134.98,566.57h7.2M138.58,562.57v8M138.97,566.74h7.2M142.57,562.74v8M142.97,566.91h7.2M146.57,562.91v8M146.97,567.07h7.2M150.57,563.07v8M150.96,567.24h7.2M154.56,563.24v8M154.96,567.41h7.2M158.56,563.41v8M158.96,567.57h7.2M162.56,563.57v8M162.95,567.74h7.2M166.55,563.74v8M166.91,568.26h7.2M170.51,564.26v8M170.84,568.99h7.2M174.44,564.99v8M174.77,569.72h7.2M178.37,565.72v8M178.71,570.45h7.2M182.31,566.45v8M182.64,571.18h7.2M186.24,567.18v8M186.57,571.91h7.2M190.17,567.91v8M190.51,572.63h7.2M194.11,568.63v8M194.47,573.17h7.2M198.07,569.17v8M198.44,573.64h7.2M202.04,569.64v8M202.41,574.12h7.2M206.01,570.12v8M206.38,574.60h7.2M209.98,570.60v8M210.36,575.07h7.2M213.96,571.07v8M214.33,575.55h7.2M217.93,571.55v8M217.31,575.91h7.2M220.91,571.91v8M224.26,576.74h7.2M227.86,572.74v8M231.21,577.58h7.2M234.81,573.58v8M238.16,578.41h7.2M241.76,574.41v8M245.09,579.40h7.2M248.69,575.40v8M251.99,580.52h7.2M255.59,576.52v8M258.90,581.64h7.2M262.50,577.64v8M265.81,582.76h7.2M269.41,578.76v8M272.72,583.88h7.2M276.32,579.88v8M279.57,585.24h7.2M283.17,581.24v8M286.12,587.70h7.2M289.72,583.70v8M293.06,588.60h7.2M296.66,584.60v8M300.01,589.43h7.2M303.61,585.43v8M306.96,590.21h7.2M310.56,586.21v8M313.96,590.35h7.2M317.56,586.35v8M320.96,590.49h7.2M324.56,586.49v8M327.96,590.63h7.2M331.56,586.63v8M334.96,590.77h7.2M338.56,586.77v8M341.93,591.33h7.2M345.53,587.33v8M348.90,592.00h7.2M352.50,588.00v8M355.87,592.67h7.2M359.47,588.67v8M362.84,593.33h7.2M366.44,589.33v8M369.81,593.97h7.2M373.41,589.97v8M376.78,594.61h7.2M380.38,590.61v8M383.75,595.26h7.2M387.35,591.26v8M390.71,596.00h7.2M394.31,592.00v8M397.66,596.81h7.2M401.26,592.81v8M404.61,597.61h7.2M408.21,593.61v8M411.57,598.41h7.2M415.17,594.41v8M418.56,598.83h7.2M422.16,594.83v8M425.54,599.25h7.2M429.14,595.25v8M432.53,599.67h7.2M436.13,595.67v8M439.52,600.09h7.2M443.12,596.09v8M446.48,600.75h7.2M450.08,596.75v8M453.44,601.51h7.2M457.04,597.51v8M460.40,602.26h7.2M464.00,598.26v8M467.36,603.02h7.2M470.96,599.02v8M474.32,603.77h7.2M477.92,599.77v8M506.40,604.00h7.2M510.00,600.00v8M508.80,604.00h7.2M512.40,600.00v8M534.00,607.00h7.2M537.60,603.00v8M551.70,607.00h7.2M555.30,603.00v8M558.20,607.00h7.2M561.80,603.00v8M560.50,607.00h7.2M564.10,603.00v8M588.50,607.00h7.2M592.10,603.00v8M602.60,607.00h7.2M606.20,603.00v8M650.20,612.60h7.2M653.80,608.60v8M677.00,615.50h7.2M680.60,611.50v8M680.50,615.50h7.2M684.10,611.50v8M681.70,615.50h7.2M685.30,611.50v8M699.90,615.50h7.2M703.50,611.50v8M712.30,615.50h7.2M715.90,611.50v8M762.90,615.50h7.2M766.50,611.50v8M772.00,615.50h7.2M775.60,611.50v8M788.50,615.50h7.2M792.10,611.50v8M792.60,615.50h7.2M796.20,611.50v8" fill="none" stroke="#EA6C62" stroke-width="1.7"/>
<path d="M102.60,564.50H104.23V564.51H105.85V564.53H107.48V564.54H109.10V564.55H110.73V564.57H112.36V564.58H113.98V564.59H115.61V564.60H117.23V564.62H118.86V564.63H120.49V564.64H122.11V564.66H123.74V564.67H125.37V564.68H126.99V564.70H128.62V564.71H130.24V564.72H131.87V564.73H133.50V564.75H135.12V564.76H136.75V564.77H138.37V564.79H140.00V564.80H141.58V564.89H143.16V564.98H144.74V565.07H146.32V565.16H147.89V565.25H149.47V565.34H151.05V565.43H152.63V565.52H154.21V565.61H155.79V565.69H157.37V565.78H158.95V565.87H160.53V565.96H162.11V566.05H163.68V566.14H165.26V566.23H166.84V566.32H168.42V566.41H170.00V566.50H171.56V566.75H173.12V567.00H174.69V567.25H176.25V567.50H177.81V567.75H179.38V568.00H180.94V568.25H182.50V568.50H184.06V568.75H185.62V569.00H187.19V569.25H188.75V569.50H190.31V569.75H191.88V570.00H193.44V570.25H195.00V570.50H196.56V570.69H198.12V570.88H199.69V571.06H201.25V571.25H202.81V571.44H204.38V571.62H205.94V571.81H207.50V572.00H209.06V572.19H210.62V572.38H212.19V572.56H213.75V572.75H215.31V572.94H216.88V573.12H218.44V573.31H220.00V573.50H221.56V573.59H223.12V573.69H224.69V573.78H226.25V573.88H227.81V573.97H229.38V574.06H230.94V574.16H232.50V574.25H234.06V574.34H235.62V574.44H237.19V574.53H238.75V574.62H240.31V574.72H241.88V574.81H243.44V574.91H245.00V575.00H246.56V575.34H248.12V575.69H249.69V576.03H251.25V576.38H252.81V576.72H254.38V577.06H255.94V577.41H257.50V577.75H259.06V578.09H260.62V578.44H262.19V578.78H263.75V579.12H265.31V579.47H266.88V579.81H268.44V580.16H270.00V580.50H271.56V580.64H273.12V580.79H274.69V580.93H276.25V581.08H277.81V581.22H279.38V581.36H280.94V581.51H282.50V581.65H284.06V581.79H285.62V581.94H287.19V582.08H288.75V582.22H290.31V582.37H291.88V582.51H293.44V582.66H295.00V582.80H296.56V582.84H298.12V582.89H299.69V582.93H301.25V582.97H302.81V583.02H304.38V583.06H305.94V583.11H307.50V583.15H309.06V583.19H310.62V583.24H312.19V583.28H313.75V583.33H315.31V583.37H316.88V583.41H318.44V583.46H320.00V583.50H321.67V583.79H323.33V584.08H325.00V584.38H326.67V584.67H328.33V584.96H330.00V585.25H331.67V585.54H333.33V585.83H335.00V586.12H336.67V586.42H338.33V586.71H340.00V587.00H341.56V587.26H343.12V587.52H344.69V587.79H346.25V588.05H347.81V588.31H349.38V588.58H350.94V588.84H352.50V589.10H354.06V589.36H355.62V589.62H357.19V589.89H358.75V590.15H360.31V590.41H361.88V590.68H363.44V590.94H365.00V591.20H366.56V591.38H368.12V591.56H369.69V591.74H371.25V591.93H372.81V592.11H374.38V592.29H375.94V592.47H377.50V592.65H379.06V592.83H380.62V593.01H382.19V593.19H383.75V593.38H385.31V593.56H386.88V593.74H388.44V593.92H390.00V594.10H391.56V594.32H393.12V594.54H394.69V594.76H396.25V594.98H397.81V595.19H399.38V595.41H400.94V595.63H402.50V595.85H404.06V596.07H405.62V596.29H407.19V596.51H408.75V596.73H410.31V596.94H411.88V597.16H413.44V597.38H415.00V597.60H416.58V597.69H418.16V597.79H419.74V597.88H421.32V597.98H422.89V598.07H424.47V598.17H426.05V598.26H427.63V598.36H429.21V598.45H430.79V598.55H432.37V598.64H433.95V598.74H435.53V598.83H437.11V598.93H438.68V599.02H440.26V599.12H441.84V599.21H443.42V599.31H445.00V599.40H446.59V599.41H448.18V599.43H449.77V599.44H451.36V599.45H452.95V599.47H454.55V599.48H456.14V599.50H457.73V599.51H459.32V599.52H460.91V599.54H462.50V599.55H464.09V599.56H465.68V599.58H467.27V599.59H468.86V599.60H470.45V599.62H472.05V599.63H473.64V599.65H475.23V599.66H476.82V599.67H478.41V599.69H480.00V599.70H569.40V601.80H707.00V605.90H796.20V605.90" fill="none" stroke="#A6A22A" stroke-width="1.25"/>
<path d="M106.00,565.36h7.2M109.60,561.36v8M109.50,565.38h7.2M113.10,561.38v8M113.00,565.41h7.2M116.60,561.41v8M116.50,565.44h7.2M120.10,561.44v8M120.00,565.47h7.2M123.60,561.47v8M123.50,565.50h7.2M127.10,561.50v8M127.00,565.52h7.2M130.60,561.52v8M130.50,565.55h7.2M134.10,561.55v8M134.00,565.58h7.2M137.60,561.58v8M137.50,565.66h7.2M141.10,561.66v8M140.99,565.86h7.2M144.59,561.86v8M144.49,566.06h7.2M148.09,562.06v8M147.98,566.26h7.2M151.58,562.26v8M151.47,566.45h7.2M155.07,562.45v8M154.97,566.65h7.2M158.57,562.65v8M158.46,566.85h7.2M162.06,562.85v8M161.96,567.05h7.2M165.56,563.05v8M165.45,567.25h7.2M169.05,563.25v8M168.92,567.70h7.2M172.52,563.70v8M172.37,568.26h7.2M175.97,564.26v8M175.83,568.81h7.2M179.43,564.81v8M179.29,569.36h7.2M182.89,565.36v8M182.74,569.91h7.2M186.34,565.91v8M186.20,570.47h7.2M189.80,566.47v8M189.65,571.02h7.2M193.25,567.02v8M193.12,571.51h7.2M196.72,567.51v8M196.60,571.92h7.2M200.20,567.92v8M200.07,572.34h7.2M203.67,568.34v8M203.55,572.76h7.2M207.15,568.76v8M207.02,573.17h7.2M210.62,569.17v8M210.50,573.59h7.2M214.10,569.59v8M213.97,574.01h7.2M217.57,570.01v8M217.45,574.36h7.2M221.05,570.36v8M220.95,574.57h7.2M224.55,570.57v8M224.44,574.78h7.2M228.04,570.78v8M227.93,574.99h7.2M231.53,570.99v8M231.43,575.20h7.2M235.03,571.20v8M234.92,575.41h7.2M238.52,571.41v8M238.41,575.62h7.2M242.01,571.62v8M241.90,575.91h7.2M245.50,571.91v8M245.31,576.66h7.2M248.91,572.66v8M248.73,577.41h7.2M252.33,573.41v8M252.15,578.17h7.2M255.75,574.17v8M255.57,578.92h7.2M259.17,574.92v8M257.52,579.35h7.2M261.12,575.35v8M262.89,580.53h7.2M266.49,576.53v8M268.30,581.48h7.2M271.90,577.48v8M273.78,581.98h7.2M277.38,577.98v8M279.26,582.48h7.2M282.86,578.48v8M284.73,582.99h7.2M288.33,578.99v8M290.21,583.49h7.2M293.81,579.49v8M295.70,583.72h7.2M299.30,579.72v8M301.20,583.87h7.2M304.80,579.87v8M306.70,584.03h7.2M310.30,580.03v8M312.20,584.18h7.2M315.80,580.18v8M317.68,584.52h7.2M321.28,580.52v8M323.09,585.47h7.2M326.69,581.47v8M328.51,586.42h7.2M332.11,582.42v8M333.93,587.37h7.2M337.53,583.37v8M339.35,588.30h7.2M342.95,584.30v8M344.77,589.21h7.2M348.37,585.21v8M350.20,590.12h7.2M353.80,586.12v8M355.62,591.03h7.2M359.22,587.03v8M361.05,591.94h7.2M364.65,587.94v8M366.51,592.59h7.2M370.11,588.59v8M371.97,593.23h7.2M375.57,589.23v8M377.43,593.86h7.2M381.03,589.86v8M382.90,594.49h7.2M386.50,590.49v8M388.35,595.17h7.2M391.95,591.17v8M393.80,595.94h7.2M397.40,591.94v8M399.25,596.70h7.2M402.85,592.70v8M404.69,597.46h7.2M408.29,593.46v8M410.14,598.22h7.2M413.74,594.22v8M415.62,598.65h7.2M419.22,594.65v8M421.11,598.98h7.2M424.71,594.98v8M426.60,599.31h7.2M430.20,595.31v8M432.09,599.64h7.2M435.69,595.64v8M437.58,599.97h7.2M441.18,595.97v8M443.08,600.21h7.2M446.68,596.21v8M448.58,600.26h7.2M452.18,596.26v8M454.07,600.31h7.2M457.67,596.31v8M459.57,600.36h7.2M463.17,596.36v8M465.07,600.40h7.2M468.67,596.40v8M470.57,600.45h7.2M474.17,596.45v8M476.07,600.50h7.2M479.67,596.50v8M481.10,600.50h7.2M484.70,596.50v8M484.00,600.50h7.2M487.60,596.50v8M497.60,600.50h7.2M501.20,596.50v8M527.00,600.50h7.2M530.60,596.50v8M529.90,600.50h7.2M533.50,596.50v8M536.40,600.50h7.2M540.00,596.50v8M542.30,600.50h7.2M545.90,596.50v8M569.90,602.60h7.2M573.50,598.60v8M572.60,602.60h7.2M576.20,598.60v8M581.40,602.60h7.2M585.00,598.60v8M585.50,602.60h7.2M589.10,598.60v8M594.30,602.60h7.2M597.90,598.60v8M613.80,602.60h7.2M617.40,598.60v8M647.90,602.60h7.2M651.50,598.60v8M651.40,602.60h7.2M655.00,598.60v8M659.00,602.60h7.2M662.60,598.60v8M716.40,606.70h7.2M720.00,602.70v8M743.50,606.70h7.2M747.10,602.70v8M792.60,606.70h7.2M796.20,602.70v8" fill="none" stroke="#A6A22A" stroke-width="1.7"/>
<path d="M102.60,564.50H104.23V564.63H105.85V564.76H107.48V564.89H109.10V565.02H110.73V565.15H112.36V565.28H113.98V565.41H115.61V565.54H117.23V565.67H118.86V565.80H120.49V565.93H122.11V566.07H123.74V566.20H125.37V566.33H126.99V566.46H128.62V566.59H130.24V566.72H131.87V566.85H133.50V566.98H135.12V567.11H136.75V567.24H138.37V567.37H140.00V567.50H141.58V567.61H143.16V567.71H144.74V567.82H146.32V567.92H147.89V568.03H149.47V568.13H151.05V568.24H152.63V568.34H154.21V568.45H155.79V568.55H157.37V568.66H158.95V568.76H160.53V568.87H162.11V568.97H163.68V569.08H165.26V569.18H166.84V569.29H168.42V569.39H170.00V569.50H171.58V569.68H173.16V569.87H174.74V570.05H176.32V570.24H177.89V570.42H179.47V570.61H181.05V570.79H182.63V570.97H184.21V571.16H185.79V571.34H187.37V571.53H188.95V571.71H190.53V571.89H192.11V572.08H193.68V572.26H195.26V572.45H196.84V572.63H198.42V572.82H200.00V573.00H201.61V573.34H203.21V573.67H204.82V574.01H206.43V574.34H208.04V574.68H209.64V575.01H211.25V575.35H212.86V575.69H214.46V576.02H216.07V576.36H217.68V576.69H219.29V577.03H220.89V577.36H222.50V577.70H224.11V578.04H225.71V578.37H227.32V578.71H228.93V579.04H230.54V579.38H232.14V579.71H233.75V580.05H235.36V580.39H236.96V580.72H238.57V581.06H240.18V581.39H241.79V581.73H243.39V582.06H245.00V582.40H246.56V582.66H248.12V582.91H249.69V583.17H251.25V583.42H252.81V583.68H254.38V583.94H255.94V584.19H257.50V584.45H259.06V584.71H260.62V584.96H262.19V585.22H263.75V585.48H265.31V585.73H266.88V585.99H268.44V586.24H270.00V586.50H271.67V586.99H273.33V587.48H275.00V587.98H276.67V588.47H278.33V588.96H280.00V589.45H281.67V589.94H283.33V590.43H285.00V590.92H286.67V591.42H288.33V591.91H290.00V592.40H291.67V592.64H293.33V592.88H295.00V593.12H296.67V593.37H298.33V593.61H300.00V593.85H301.67V594.09H303.33V594.33H305.00V594.57H306.67V594.82H308.33V595.06H310.00V595.30H311.58V595.52H313.16V595.73H314.74V595.95H316.32V596.16H317.89V596.38H319.47V596.59H321.05V596.81H322.63V597.03H324.21V597.24H325.79V597.46H327.37V597.67H328.95V597.89H330.53V598.11H332.11V598.32H333.68V598.54H335.26V598.75H336.84V598.97H338.42V599.18H340.00V599.40H341.56V599.62H343.12V599.85H344.69V600.07H346.25V600.30H347.81V600.52H349.38V600.75H350.94V600.98H352.50V601.20H354.06V601.42H355.62V601.65H357.19V601.88H358.75V602.10H360.31V602.33H361.88V602.55H363.44V602.77H365.00V603.00H366.56V603.22H368.12V603.44H369.69V603.66H371.25V603.88H372.81V604.09H374.38V604.31H375.94V604.53H377.50V604.75H379.06V604.97H380.62V605.19H382.19V605.41H383.75V605.62H385.31V605.84H386.88V606.06H388.44V606.28H390.00V606.50H391.58V606.65H393.16V606.81H394.74V606.96H396.32V607.11H397.89V607.26H399.47V607.42H401.05V607.57H402.63V607.72H404.21V607.87H405.79V608.03H407.37V608.18H408.95V608.33H410.53V608.48H412.11V608.64H413.68V608.79H415.26V608.94H416.84V609.09H418.42V609.25H420.00V609.40H421.58V609.43H423.16V609.46H424.74V609.49H426.32V609.53H427.89V609.56H429.47V609.59H431.05V609.62H432.63V609.65H434.21V609.68H435.79V609.72H437.37V609.75H438.95V609.78H440.53V609.81H442.11V609.84H443.68V609.87H445.26V609.91H446.84V609.94H448.42V609.97H450.00V610.00H451.59V610.18H453.18V610.36H454.77V610.55H456.36V610.73H457.95V610.91H459.55V611.09H461.14V611.27H462.73V611.45H464.32V611.64H465.91V611.82H467.50V612.00H469.09V612.18H470.68V612.36H472.27V612.55H473.86V612.73H475.45V612.91H477.05V613.09H478.64V613.27H480.23V613.45H481.82V613.64H483.41V613.82H485.00V614.00H577.00V623.50H599.70V625.90H662.00V632.40H710.00V635.30H748.80V637.00H796.20V637.00" fill="none" stroke="#25AD74" stroke-width="1.25"/>
<path d="M107.97,566.02h7.2M111.57,562.02v8M112.46,566.38h7.2M116.06,562.38v8M116.94,566.74h7.2M120.54,562.74v8M121.43,567.10h7.2M125.03,563.10v8M125.91,567.46h7.2M129.51,563.46v8M130.40,567.82h7.2M134.00,563.82v8M134.88,568.18h7.2M138.48,564.18v8M139.37,568.50h7.2M142.97,564.50v8M143.86,568.80h7.2M147.46,564.80v8M148.35,569.10h7.2M151.95,565.10v8M152.84,569.40h7.2M156.44,565.40v8M157.33,569.70h7.2M160.93,565.70v8M161.82,569.99h7.2M165.42,565.99v8M166.31,570.29h7.2M169.91,566.29v8M170.78,570.81h7.2M174.38,566.81v8M175.25,571.33h7.2M178.85,567.33v8M179.72,571.85h7.2M183.32,567.85v8M184.19,572.38h7.2M187.79,568.38v8M188.66,572.90h7.2M192.26,568.90v8M193.13,573.42h7.2M196.73,569.42v8M197.58,574.05h7.2M201.18,570.05v8M201.99,574.97h7.2M205.59,570.97v8M206.39,575.89h7.2M209.99,571.89v8M210.80,576.81h7.2M214.40,572.81v8M215.20,577.73h7.2M218.80,573.73v8M219.61,578.65h7.2M223.21,574.65v8M224.01,579.57h7.2M227.61,575.57v8M228.42,580.49h7.2M232.02,576.49v8M232.82,581.41h7.2M236.42,577.41v8M241.64,583.24h7.2M245.24,579.24v8M249.53,584.53h7.2M253.13,580.53v8M257.42,585.83h7.2M261.02,581.83v8M265.32,587.12h7.2M268.92,583.12v8M273.02,589.25h7.2M276.62,585.25v8M280.70,591.52h7.2M284.30,587.52v8M288.43,593.49h7.2M292.03,589.49v8M296.35,594.64h7.2M299.95,590.64v8M304.27,595.79h7.2M307.87,591.79v8M312.19,596.89h7.2M315.79,592.89v8M320.12,597.97h7.2M323.72,593.97v8M328.04,599.06h7.2M331.64,595.06v8M335.97,600.14h7.2M339.57,596.14v8M343.89,601.28h7.2M347.49,597.28v8M351.81,602.42h7.2M355.41,598.42v8M359.72,603.56h7.2M363.32,599.56v8M367.65,604.67h7.2M371.25,600.67v8M375.57,605.78h7.2M379.17,601.78v8M383.49,606.89h7.2M387.09,602.89v8M391.44,607.79h7.2M395.04,603.79v8M399.40,608.56h7.2M403.00,604.56v8M407.37,609.33h7.2M410.97,605.33v8M415.33,610.10h7.2M418.93,606.10v8M423.32,610.34h7.2M426.92,606.34v8M431.32,610.50h7.2M434.92,606.50v8M439.32,610.66h7.2M442.92,606.66v8M447.31,610.90h7.2M450.91,606.90v8M455.26,611.81h7.2M458.86,607.81v8M463.21,612.72h7.2M466.81,608.72v8M471.16,613.63h7.2M474.76,609.63v8M479.10,614.54h7.2M482.70,610.54v8M531.40,614.80h7.2M535.00,610.80v8M579.00,624.30h7.2M582.60,620.30v8M584.90,624.30h7.2M588.50,620.30v8M613.20,626.70h7.2M616.80,622.70v8M702.90,633.20h7.2M706.50,629.20v8M713.40,636.10h7.2M717.00,632.10v8M744.60,636.10h7.2M748.20,632.10v8M746.10,637.80h7.2M749.70,633.80v8M769.60,637.80h7.2M773.20,633.80v8M792.60,637.80h7.2M796.20,633.80v8" fill="none" stroke="#25AD74" stroke-width="1.7"/>
<path d="M102.60,564.50H104.21V564.85H105.82V565.21H107.44V565.56H109.05V565.91H110.66V566.26H112.27V566.62H113.88V566.97H115.49V567.32H117.11V567.68H118.72V568.03H120.33V568.38H121.94V568.74H123.55V569.09H125.16V569.44H126.78V569.79H128.39V570.15H130.00V570.50H131.67V570.75H133.33V571.00H135.00V571.25H136.67V571.50H138.33V571.75H140.00V572.00H141.67V572.25H143.33V572.50H145.00V572.75H146.67V573.00H148.33V573.25H150.00V573.50H151.67V573.74H153.33V573.98H155.00V574.23H156.67V574.47H158.33V574.71H160.00V574.95H161.67V575.19H163.33V575.43H165.00V575.67H166.67V575.92H168.33V576.16H170.00V576.40H171.56V576.53H173.12V576.66H174.69V576.79H176.25V576.92H177.81V577.06H179.38V577.19H180.94V577.32H182.50V577.45H184.06V577.58H185.62V577.71H187.19V577.84H188.75V577.98H190.31V578.11H191.88V578.24H193.44V578.37H195.00V578.50H196.56V578.72H198.12V578.94H199.69V579.16H201.25V579.38H202.81V579.59H204.38V579.81H205.94V580.03H207.50V580.25H209.06V580.47H210.62V580.69H212.19V580.91H213.75V581.12H215.31V581.34H216.88V581.56H218.44V581.78H220.00V582.00H221.56V582.31H223.12V582.62H224.69V582.94H226.25V583.25H227.81V583.56H229.38V583.88H230.94V584.19H232.50V584.50H234.06V584.81H235.62V585.12H237.19V585.44H238.75V585.75H240.31V586.06H241.88V586.38H243.44V586.69H245.00V587.00H246.56V587.30H248.12V587.60H249.69V587.90H251.25V588.20H252.81V588.50H254.38V588.80H255.94V589.10H257.50V589.40H259.06V589.70H260.62V590.00H262.19V590.30H263.75V590.60H265.31V590.90H266.88V591.20H268.44V591.50H270.00V591.80H271.56V592.16H273.12V592.52H274.69V592.89H276.25V593.25H277.81V593.61H279.38V593.98H280.94V594.34H282.50V594.70H284.06V595.06H285.62V595.42H287.19V595.79H288.75V596.15H290.31V596.51H291.88V596.88H293.44V597.24H295.00V597.60H296.56V597.79H298.12V597.98H299.69V598.16H301.25V598.35H302.81V598.54H304.38V598.73H305.94V598.91H307.50V599.10H309.06V599.29H310.62V599.48H312.19V599.66H313.75V599.85H315.31V600.04H316.88V600.23H318.44V600.41H320.00V600.60H321.56V600.71H323.12V600.83H324.69V600.94H326.25V601.05H327.81V601.16H329.38V601.27H330.94V601.39H332.50V601.50H334.06V601.61H335.62V601.73H337.19V601.84H338.75V601.95H340.31V602.06H341.88V602.17H343.44V602.29H345.00V602.40H346.67V602.54H348.33V602.68H350.00V602.83H351.67V602.97H353.33V603.11H355.00V603.25H356.67V603.39H358.33V603.53H360.00V603.67H361.67V603.82H363.33V603.96H365.00V604.10H366.56V604.25H368.12V604.40H369.69V604.55H371.25V604.70H372.81V604.85H374.38V605.00H375.94V605.15H377.50V605.30H379.06V605.45H380.62V605.60H382.19V605.75H383.75V605.90H385.31V606.05H386.88V606.20H388.44V606.35H390.00V606.50H391.58V606.65H393.16V606.81H394.74V606.96H396.32V607.11H397.89V607.26H399.47V607.42H401.05V607.57H402.63V607.72H404.21V607.87H405.79V608.03H407.37V608.18H408.95V608.33H410.53V608.48H412.11V608.64H413.68V608.79H415.26V608.94H416.84V609.09H418.42V609.25H420.00V609.40H421.60V609.52H423.20V609.64H424.80V609.76H426.40V609.88H428.00V610.00H429.60V610.12H431.20V610.24H432.80V610.36H434.40V610.48H436.00V610.60H437.60V610.72H439.20V610.84H440.80V610.96H442.40V611.08H444.00V611.20H445.60V611.32H447.20V611.44H448.80V611.56H450.40V611.68H452.00V611.80H453.60V611.92H455.20V612.04H456.80V612.16H458.40V612.28H460.00V612.40H461.67V612.38H463.33V612.37H465.00V612.35H466.67V612.33H468.33V612.32H470.00V612.30H471.67V612.28H473.33V612.27H475.00V612.25H476.67V612.23H478.33V612.22H480.00V612.20H501.20V616.20H514.00V619.70H550.00V620.50H592.60V621.80H662.00V627.60H684.10V630.00H750.00V635.30H796.20V635.30" fill="none" stroke="#22A8E6" stroke-width="1.25"/>
<path d="M105.84,566.80h7.2M109.44,562.80v8M109.26,567.55h7.2M112.86,563.55v8M112.68,568.29h7.2M116.28,564.29v8M116.09,569.04h7.2M119.69,565.04v8M119.51,569.79h7.2M123.11,565.79v8M122.93,570.54h7.2M126.53,566.54v8M126.35,571.29h7.2M129.95,567.29v8M129.81,571.81h7.2M133.41,567.81v8M133.27,572.33h7.2M136.87,568.33v8M136.74,572.85h7.2M140.34,568.85v8M140.20,573.37h7.2M143.80,569.37v8M143.66,573.89h7.2M147.26,569.89v8M147.12,574.40h7.2M150.72,570.40v8M150.58,574.91h7.2M154.18,570.91v8M154.05,575.41h7.2M157.65,571.41v8M157.51,575.91h7.2M161.11,571.91v8M160.97,576.41h7.2M164.57,572.41v8M164.44,576.92h7.2M168.04,572.92v8M167.91,577.33h7.2M171.51,573.33v8M171.40,577.62h7.2M175.00,573.62v8M174.89,577.91h7.2M178.49,573.91v8M178.38,578.21h7.2M181.98,574.21v8M181.86,578.50h7.2M185.46,574.50v8M185.35,578.79h7.2M188.95,574.79v8M188.84,579.08h7.2M192.44,575.08v8M192.32,579.43h7.2M195.92,575.43v8M195.79,579.91h7.2M199.39,575.91v8M199.25,580.40h7.2M202.85,576.40v8M202.72,580.88h7.2M206.32,576.88v8M206.19,581.37h7.2M209.79,577.37v8M209.65,581.86h7.2M213.25,577.86v8M213.12,582.34h7.2M216.72,578.34v8M216.58,582.84h7.2M220.18,578.84v8M220.01,583.52h7.2M223.61,579.52v8M223.45,584.21h7.2M227.05,580.21v8M226.88,584.90h7.2M230.48,580.90v8M230.31,585.58h7.2M233.91,581.58v8M233.74,586.27h7.2M237.34,582.27v8M237.17,586.95h7.2M240.77,582.95v8M240.61,587.64h7.2M244.21,583.64v8M244.04,588.31h7.2M247.64,584.31v8M247.48,588.97h7.2M251.08,584.97v8M250.92,589.63h7.2M254.52,585.63v8M254.35,590.29h7.2M257.95,586.29v8M257.79,590.95h7.2M261.39,586.95v8M261.23,591.61h7.2M264.83,587.61v8M264.67,592.27h7.2M268.27,588.27v8M268.09,592.99h7.2M271.69,588.99v8M271.50,593.78h7.2M275.10,589.78v8M274.91,594.57h7.2M278.51,590.57v8M281.24,596.04h7.2M284.84,592.04v8M286.11,597.17h7.2M289.71,593.17v8M290.98,598.30h7.2M294.58,594.30v8M295.94,598.94h7.2M299.54,594.94v8M300.90,599.54h7.2M304.50,595.54v8M305.87,600.14h7.2M309.47,596.14v8M310.83,600.73h7.2M314.43,596.73v8M315.80,601.33h7.2M319.40,597.33v8M320.78,601.72h7.2M324.38,597.72v8M325.77,602.07h7.2M329.37,598.07v8M330.75,602.43h7.2M334.35,598.43v8M335.74,602.79h7.2M339.34,598.79v8M340.73,603.15h7.2M344.33,599.15v8M345.71,603.57h7.2M349.31,599.57v8M350.69,603.99h7.2M354.29,599.99v8M355.67,604.41h7.2M359.27,600.41v8M360.66,604.84h7.2M364.26,600.84v8M365.63,605.31h7.2M369.23,601.31v8M370.61,605.78h7.2M374.21,601.78v8M375.59,606.26h7.2M379.19,602.26v8M380.57,606.74h7.2M384.17,602.74v8M385.54,607.22h7.2M389.14,603.22v8M390.52,607.70h7.2M394.12,603.70v8M395.50,608.18h7.2M399.10,604.18v8M400.47,608.66h7.2M404.07,604.66v8M405.45,609.14h7.2M409.05,605.14v8M410.43,609.62h7.2M414.03,605.62v8M415.40,610.10h7.2M419.00,606.10v8M420.39,610.50h7.2M423.99,606.50v8M425.37,610.87h7.2M428.97,606.87v8M430.36,611.25h7.2M433.96,607.25v8M435.35,611.62h7.2M438.95,607.62v8M440.33,611.99h7.2M443.93,607.99v8M445.32,612.37h7.2M448.92,608.37v8M450.30,612.74h7.2M453.90,608.74v8M455.29,613.12h7.2M458.89,609.12v8M460.29,613.16h7.2M463.89,609.16v8M465.29,613.11h7.2M468.89,609.11v8M470.29,613.06h7.2M473.89,609.06v8M475.29,613.01h7.2M478.89,609.01v8M478.80,613.00h7.2M482.40,609.00v8M485.20,613.00h7.2M488.80,609.00v8M499.90,617.00h7.2M503.50,613.00v8M511.10,620.50h7.2M514.70,616.50v8M514.60,620.50h7.2M518.20,616.50v8M524.00,620.50h7.2M527.60,616.50v8M525.80,620.50h7.2M529.40,616.50v8M531.10,620.50h7.2M534.70,616.50v8M547.00,621.30h7.2M550.60,617.30v8M549.40,621.30h7.2M553.00,617.30v8M555.20,621.30h7.2M558.80,617.30v8M562.90,621.30h7.2M566.50,617.30v8M580.80,621.30h7.2M584.40,617.30v8M599.00,622.60h7.2M602.60,618.60v8M610.20,622.60h7.2M613.80,618.60v8M622.00,622.60h7.2M625.60,618.60v8M625.50,622.60h7.2M629.10,618.60v8M629.00,622.60h7.2M632.60,618.60v8M634.90,622.60h7.2M638.50,618.60v8M643.20,622.60h7.2M646.80,618.60v8M647.90,622.60h7.2M651.50,618.60v8M653.80,622.60h7.2M657.40,618.60v8M693.40,630.80h7.2M697.00,626.80v8M698.80,630.80h7.2M702.40,626.80v8M709.90,630.80h7.2M713.50,626.80v8M748.80,636.10h7.2M752.40,632.10v8M758.20,636.10h7.2M761.80,632.10v8M764.00,636.10h7.2M767.60,632.10v8M787.90,636.10h7.2M791.50,632.10v8M792.60,636.10h7.2M796.20,632.10v8" fill="none" stroke="#22A8E6" stroke-width="1.7"/>
<path d="M102.60,564.50H104.19V564.53H105.77V564.56H107.36V564.59H108.95V564.62H110.54V564.66H112.12V564.69H113.71V564.72H115.30V564.75H116.89V564.78H118.47V564.81H120.06V564.84H121.65V564.88H123.24V564.91H124.83V564.94H126.41V564.97H128.00V565.00H129.50V566.00H131.00V567.00H132.50V568.00H134.00V569.00H135.50V570.00H137.00V571.00H138.50V572.00H140.00V573.00H141.67V573.58H143.33V574.17H145.00V574.75H146.67V575.33H148.33V575.92H150.00V576.50H151.60V577.10H153.20V577.70H154.80V578.30H156.40V578.90H158.00V579.50H159.50V580.00H161.00V580.50H162.50V581.00H164.00V581.50H165.50V582.00H167.00V582.50H168.50V583.00H170.00V583.50H171.67V584.00H173.33V584.50H175.00V585.00H176.67V585.50H178.33V586.00H180.00V586.50H181.67V586.75H183.33V587.00H185.00V587.25H186.67V587.50H188.33V587.75H190.00V588.00H191.67V588.25H193.33V588.50H195.00V588.75H196.67V589.00H198.33V589.25H200.00V589.50H201.67V589.69H203.33V589.88H205.00V590.08H206.67V590.27H208.33V590.46H210.00V590.65H211.67V590.84H213.33V591.03H215.00V591.22H216.67V591.42H218.33V591.61H220.00V591.80H221.56V592.02H223.12V592.24H224.69V592.46H226.25V592.67H227.81V592.89H229.38V593.11H230.94V593.33H232.50V593.55H234.06V593.77H235.62V593.99H237.19V594.21H238.75V594.42H240.31V594.64H241.88V594.86H243.44V595.08H245.00V595.30H246.56V595.59H248.12V595.89H249.69V596.18H251.25V596.47H252.81V596.77H254.38V597.06H255.94V597.36H257.50V597.65H259.06V597.94H260.62V598.24H262.19V598.53H263.75V598.83H265.31V599.12H266.88V599.41H268.44V599.71H270.00V600.00H271.56V600.22H273.12V600.44H274.69V600.66H276.25V600.88H277.81V601.09H279.38V601.31H280.94V601.53H282.50V601.75H284.06V601.97H285.62V602.19H287.19V602.41H288.75V602.62H290.31V602.84H291.88V603.06H293.44V603.28H295.00V603.50H296.56V603.65H298.12V603.80H299.69V603.95H301.25V604.10H302.81V604.25H304.38V604.40H305.94V604.55H307.50V604.70H309.06V604.85H310.62V605.00H312.19V605.15H313.75V605.30H315.31V605.45H316.88V605.60H318.44V605.75H320.00V605.90H321.56V606.08H323.12V606.26H324.69V606.44H326.25V606.62H327.81V606.81H329.38V606.99H330.94V607.17H332.50V607.35H334.06V607.53H335.62V607.71H337.19V607.89H338.75V608.07H340.31V608.26H341.88V608.44H343.44V608.62H345.00V608.80H346.67V609.00H348.33V609.20H350.00V609.40H351.67V609.60H353.33V609.80H355.00V610.00H356.67V610.20H358.33V610.40H360.00V610.60H361.67V610.80H363.33V611.00H365.00V611.20H366.56V611.46H368.12V611.71H369.69V611.97H371.25V612.23H372.81V612.48H374.38V612.74H375.94V612.99H377.50V613.25H379.06V613.51H380.62V613.76H382.19V614.02H383.75V614.27H385.31V614.53H386.88V614.79H388.44V615.04H390.00V615.30H391.58V615.48H393.16V615.67H394.74V615.85H396.32V616.04H397.89V616.22H399.47V616.41H401.05V616.59H402.63V616.77H404.21V616.96H405.79V617.14H407.37V617.33H408.95V617.51H410.53V617.69H412.11V617.88H413.68V618.06H415.26V618.25H416.84V618.43H418.42V618.62H420.00V618.80H421.56V618.95H423.12V619.10H424.69V619.25H426.25V619.40H427.81V619.55H429.38V619.70H430.94V619.85H432.50V620.00H434.06V620.15H435.62V620.30H437.19V620.45H438.75V620.60H440.31V620.75H441.88V620.90H443.44V621.05H445.00V621.20H446.59V621.26H448.18V621.33H449.77V621.39H451.36V621.45H452.95V621.52H454.55V621.58H456.14V621.65H457.73V621.71H459.32V621.77H460.91V621.84H462.50V621.90H464.09V621.96H465.68V622.03H467.27V622.09H468.86V622.15H470.45V622.22H472.05V622.28H473.64V622.35H475.23V622.41H476.82V622.47H478.41V622.54H480.00V622.60H494.00V626.20H509.40V628.00H523.50V632.60H549.40V636.20H565.00V638.20H586.80V640.60H600.90V644.10H664.40V646.50H745.30V647.60H786.20V650.20H796.20V650.20" fill="none" stroke="#C068C2" stroke-width="1.25"/>
<path d="M130.30,569.74h7.2M133.90,565.74v8M135.71,573.34h7.2M139.31,569.34v8M141.75,575.67h7.2M145.35,571.67v8M147.88,577.85h7.2M151.48,573.85v8M153.96,580.14h7.2M157.56,576.14v8M160.12,582.21h7.2M163.72,578.21v8M166.29,584.26h7.2M169.89,580.26v8M172.52,586.13h7.2M176.12,582.13v8M178.82,587.66h7.2M182.42,583.66v8M185.25,588.63h7.2M188.85,584.63v8M191.67,589.59h7.2M195.27,585.59v8M198.11,590.50h7.2M201.71,586.50v8M204.57,591.24h7.2M208.17,587.24v8M211.02,591.98h7.2M214.62,587.98v8M217.48,592.75h7.2M221.08,588.75v8M223.92,593.65h7.2M227.52,589.65v8M230.35,594.55h7.2M233.95,590.55v8M236.79,595.45h7.2M240.39,591.45v8M243.21,596.44h7.2M246.81,592.44v8M249.60,597.64h7.2M253.20,593.64v8M255.99,598.84h7.2M259.59,594.84v8M262.38,600.04h7.2M265.98,596.04v8M268.78,601.13h7.2M272.38,597.13v8M275.22,602.03h7.2M278.82,598.03v8M281.66,602.94h7.2M285.26,598.94v8M288.10,603.84h7.2M291.70,599.84v8M294.55,604.60h7.2M298.15,600.60v8M301.02,605.22h7.2M304.62,601.22v8M307.49,605.84h7.2M311.09,601.84v8M313.96,606.47h7.2M317.56,602.47v8M320.42,607.17h7.2M324.02,603.17v8M326.88,607.92h7.2M330.48,603.92v8M333.33,608.66h7.2M336.93,604.66v8M339.79,609.41h7.2M343.39,605.41v8M346.25,610.18h7.2M349.85,606.18v8M352.70,610.96h7.2M356.30,606.96v8M359.15,611.73h7.2M362.75,607.73v8M365.58,612.69h7.2M369.18,608.69v8M372.00,613.74h7.2M375.60,609.74v8M378.41,614.79h7.2M382.01,610.79v8M384.82,615.84h7.2M388.42,611.84v8M391.27,616.67h7.2M394.87,612.67v8M397.73,617.42h7.2M401.33,613.42v8M404.18,618.17h7.2M407.78,614.17v8M410.64,618.93h7.2M414.24,614.93v8M417.10,619.67h7.2M420.70,615.67v8M423.57,620.29h7.2M427.17,616.29v8M430.04,620.91h7.2M433.64,616.91v8M436.51,621.53h7.2M440.11,617.53v8M442.98,622.06h7.2M446.58,618.06v8M449.48,622.32h7.2M453.08,618.32v8M455.97,622.58h7.2M459.57,618.58v8M462.47,622.84h7.2M466.07,618.84v8M468.96,623.10h7.2M472.56,619.10v8M475.46,623.36h7.2M479.06,619.36v8M481.10,623.40h7.2M484.70,619.40v8M484.00,623.40h7.2M487.60,619.40v8M494.00,627.00h7.2M497.60,623.00v8M497.00,627.00h7.2M500.60,623.00v8M511.10,628.80h7.2M514.70,624.80v8M526.40,633.40h7.2M530.00,629.40v8M531.70,633.40h7.2M535.30,629.40v8M534.00,633.40h7.2M537.60,629.40v8M542.90,633.40h7.2M546.50,629.40v8M549.90,637.00h7.2M553.50,633.00v8M565.20,639.00h7.2M568.80,635.00v8M579.00,639.00h7.2M582.60,635.00v8M597.90,644.90h7.2M601.50,640.90v8M605.50,644.90h7.2M609.10,640.90v8M625.50,644.90h7.2M629.10,640.90v8M644.90,644.90h7.2M648.50,640.90v8M650.20,644.90h7.2M653.80,640.90v8M670.20,647.30h7.2M673.80,643.30v8M670.50,647.30h7.2M674.10,643.30v8M676.40,647.30h7.2M680.00,643.30v8M681.70,647.30h7.2M685.30,643.30v8M691.10,647.30h7.2M694.70,643.30v8M694.60,647.30h7.2M698.20,643.30v8M697.60,647.30h7.2M701.20,643.30v8M717.00,647.30h7.2M720.60,643.30v8M748.80,648.40h7.2M752.40,644.40v8M755.80,648.40h7.2M759.40,644.40v8M761.10,648.40h7.2M764.70,644.40v8M772.60,648.40h7.2M776.20,644.40v8M787.30,651.00h7.2M790.90,647.00v8M792.60,651.00h7.2M796.20,647.00v8" fill="none" stroke="#C068C2" stroke-width="1.7"/>
<text transform="translate(68.39,836.90) scale(1.1458,1)" font-family="Liberation Sans" font-size="11.77" fill="#1c1c1c" stroke="#1c1c1c" stroke-width="0.35">Number at risk</text>
<path d="M69.00,846.80 V912.60 H831.10" fill="none" stroke="#1c1c1c" stroke-width="1.6"/>
<line x1="65.20" y1="853.80" x2="69.00" y2="853.80" stroke="#1c1c1c" stroke-width="1.4"/>
<text transform="translate(61.70,857.40) scale(1.0259,1)" font-family="Liberation Sans" font-size="12.76" fill="#EA6C62" stroke="#EA6C62" stroke-width="0.35" text-anchor="end">Q1</text>
<text transform="translate(102.60,860.55) scale(0.9826,1)" font-family="Liberation Sans" font-size="13.76" fill="#EA6C62" stroke="#EA6C62" stroke-width="0.35" text-anchor="middle">273</text>
<text transform="translate(334.10,860.55) scale(0.9826,1)" font-family="Liberation Sans" font-size="13.76" fill="#EA6C62" stroke="#EA6C62" stroke-width="0.35" text-anchor="middle">99</text>
<text transform="translate(565.30,860.55) scale(0.9826,1)" font-family="Liberation Sans" font-size="13.76" fill="#EA6C62" stroke="#EA6C62" stroke-width="0.35" text-anchor="middle">62</text>
<text transform="translate(796.20,860.55) scale(0.9826,1)" font-family="Liberation Sans" font-size="13.76" fill="#EA6C62" stroke="#EA6C62" stroke-width="0.35" text-anchor="middle">44</text>
<line x1="65.20" y1="866.70" x2="69.00" y2="866.70" stroke="#1c1c1c" stroke-width="1.4"/>
<text transform="translate(61.70,870.30) scale(1.0259,1)" font-family="Liberation Sans" font-size="12.76" fill="#A6A22A" stroke="#A6A22A" stroke-width="0.35" text-anchor="end">Q2</text>
<text transform="translate(102.60,873.45) scale(0.9826,1)" font-family="Liberation Sans" font-size="13.76" fill="#A6A22A" stroke="#A6A22A" stroke-width="0.35" text-anchor="middle">273</text>
<text transform="translate(334.10,873.45) scale(0.9826,1)" font-family="Liberation Sans" font-size="13.76" fill="#A6A22A" stroke="#A6A22A" stroke-width="0.35" text-anchor="middle">108</text>
<text transform="translate(565.30,873.45) scale(0.9826,1)" font-family="Liberation Sans" font-size="13.76" fill="#A6A22A" stroke="#A6A22A" stroke-width="0.35" text-anchor="middle">58</text>
<text transform="translate(796.20,873.45) scale(0.9826,1)" font-family="Liberation Sans" font-size="13.76" fill="#A6A22A" stroke="#A6A22A" stroke-width="0.35" text-anchor="middle">45</text>
<line x1="65.20" y1="879.60" x2="69.00" y2="879.60" stroke="#1c1c1c" stroke-width="1.4"/>
<text transform="translate(61.70,883.20) scale(1.0259,1)" font-family="Liberation Sans" font-size="12.76" fill="#25AD74" stroke="#25AD74" stroke-width="0.35" text-anchor="end">Q3</text>
<text transform="translate(102.60,886.35) scale(0.9826,1)" font-family="Liberation Sans" font-size="13.76" fill="#25AD74" stroke="#25AD74" stroke-width="0.35" text-anchor="middle">273</text>
<text transform="translate(334.10,886.35) scale(0.9826,1)" font-family="Liberation Sans" font-size="13.76" fill="#25AD74" stroke="#25AD74" stroke-width="0.35" text-anchor="middle">113</text>
<text transform="translate(565.30,886.35) scale(0.9826,1)" font-family="Liberation Sans" font-size="13.76" fill="#25AD74" stroke="#25AD74" stroke-width="0.35" text-anchor="middle">66</text>
<text transform="translate(796.20,886.35) scale(0.9826,1)" font-family="Liberation Sans" font-size="13.76" fill="#25AD74" stroke="#25AD74" stroke-width="0.35" text-anchor="middle">49</text>
<line x1="65.20" y1="892.50" x2="69.00" y2="892.50" stroke="#1c1c1c" stroke-width="1.4"/>
<text transform="translate(61.70,896.10) scale(1.0259,1)" font-family="Liberation Sans" font-size="12.76" fill="#22A8E6" stroke="#22A8E6" stroke-width="0.35" text-anchor="end">Q4</text>
<text transform="translate(102.60,899.25) scale(0.9826,1)" font-family="Liberation Sans" font-size="13.76" fill="#22A8E6" stroke="#22A8E6" stroke-width="0.35" text-anchor="middle">273</text>
<text transform="translate(334.10,899.25) scale(0.9826,1)" font-family="Liberation Sans" font-size="13.76" fill="#22A8E6" stroke="#22A8E6" stroke-width="0.35" text-anchor="middle">140</text>
<text transform="translate(565.30,899.25) scale(0.9826,1)" font-family="Liberation Sans" font-size="13.76" fill="#22A8E6" stroke="#22A8E6" stroke-width="0.35" text-anchor="middle">81</text>
<text transform="translate(796.20,899.25) scale(0.9826,1)" font-family="Liberation Sans" font-size="13.76" fill="#22A8E6" stroke="#22A8E6" stroke-width="0.35" text-anchor="middle">55</text>
<line x1="65.20" y1="905.40" x2="69.00" y2="905.40" stroke="#1c1c1c" stroke-width="1.4"/>
<text transform="translate(61.70,909.00) scale(1.0259,1)" font-family="Liberation Sans" font-size="12.76" fill="#C068C2" stroke="#C068C2" stroke-width="0.35" text-anchor="end">Q5</text>
<text transform="translate(102.60,912.15) scale(0.9826,1)" font-family="Liberation Sans" font-size="13.76" fill="#C068C2" stroke="#C068C2" stroke-width="0.35" text-anchor="middle">273</text>
<text transform="translate(334.10,912.15) scale(0.9826,1)" font-family="Liberation Sans" font-size="13.76" fill="#C068C2" stroke="#C068C2" stroke-width="0.35" text-anchor="middle">160</text>
<text transform="translate(565.30,912.15) scale(0.9826,1)" font-family="Liberation Sans" font-size="13.76" fill="#C068C2" stroke="#C068C2" stroke-width="0.35" text-anchor="middle">89</text>
<text transform="translate(796.20,912.15) scale(0.9826,1)" font-family="Liberation Sans" font-size="13.76" fill="#C068C2" stroke="#C068C2" stroke-width="0.35" text-anchor="middle">58</text>
<line x1="102.60" y1="912.60" x2="102.60" y2="915.80" stroke="#1c1c1c" stroke-width="1.4"/>
<text transform="translate(102.60,930.80) scale(0.9104,1)" font-family="Liberation Sans" font-size="14.48" fill="#1c1c1c" stroke="#1c1c1c" stroke-width="0.35" text-anchor="middle">0</text>
<line x1="334.10" y1="912.60" x2="334.10" y2="915.80" stroke="#1c1c1c" stroke-width="1.4"/>
<text transform="translate(334.10,930.80) scale(0.9104,1)" font-family="Liberation Sans" font-size="14.48" fill="#1c1c1c" stroke="#1c1c1c" stroke-width="0.35" text-anchor="middle">10</text>
<line x1="565.30" y1="912.60" x2="565.30" y2="915.80" stroke="#1c1c1c" stroke-width="1.4"/>
<text transform="translate(565.30,930.80) scale(0.9104,1)" font-family="Liberation Sans" font-size="14.48" fill="#1c1c1c" stroke="#1c1c1c" stroke-width="0.35" text-anchor="middle">20</text>
<line x1="796.20" y1="912.60" x2="796.20" y2="915.80" stroke="#1c1c1c" stroke-width="1.4"/>
<text transform="translate(796.20,930.80) scale(0.9104,1)" font-family="Liberation Sans" font-size="14.48" fill="#1c1c1c" stroke="#1c1c1c" stroke-width="0.35" text-anchor="middle">30</text>
<text transform="translate(29.97,892.62) rotate(-90) scale(1.0746,1)" font-family="Liberation Sans" font-size="11.69" fill="#1c1c1c" stroke="#1c1c1c" stroke-width="0.35">pivQ</text>
<text transform="translate(20.09,1019.90) scale(1.0454,1)" font-family="Liberation Serif" font-size="26.57" fill="#1c1c1c" stroke="#1c1c1c" stroke-width="0">C</text>
<text transform="translate(315.65,1054.40) scale(1.1339,1)" font-family="Liberation Sans" font-size="10.85" fill="#1c1c1c" stroke="#1c1c1c" stroke-width="0.35">pivQ</text>
<line x1="352.00" y1="1049.50" x2="367.60" y2="1049.50" stroke="#EA6C62" stroke-width="1.6"/>
<line x1="359.80" y1="1045.70" x2="359.80" y2="1053.30" stroke="#EA6C62" stroke-width="1.6"/>
<text transform="translate(375.65,1054.40) scale(0.9652,1)" font-family="Liberation Sans" font-size="10.97" fill="#1c1c1c" stroke="#1c1c1c" stroke-width="0.35">Q1</text>
<line x1="399.20" y1="1049.50" x2="414.80" y2="1049.50" stroke="#A6A22A" stroke-width="1.6"/>
<line x1="407.00" y1="1045.70" x2="407.00" y2="1053.30" stroke="#A6A22A" stroke-width="1.6"/>
<text transform="translate(422.85,1054.40) scale(0.9671,1)" font-family="Liberation Sans" font-size="10.97" fill="#1c1c1c" stroke="#1c1c1c" stroke-width="0.35">Q2</text>
<line x1="445.90" y1="1049.50" x2="461.50" y2="1049.50" stroke="#25AD74" stroke-width="1.6"/>
<line x1="453.70" y1="1045.70" x2="453.70" y2="1053.30" stroke="#25AD74" stroke-width="1.6"/>
<text transform="translate(469.55,1054.40) scale(0.9613,1)" font-family="Liberation Sans" font-size="10.97" fill="#1c1c1c" stroke="#1c1c1c" stroke-width="0.35">Q3</text>
<line x1="493.20" y1="1049.50" x2="508.80" y2="1049.50" stroke="#22A8E6" stroke-width="1.6"/>
<line x1="501.00" y1="1045.70" x2="501.00" y2="1053.30" stroke="#22A8E6" stroke-width="1.6"/>
<text transform="translate(516.86,1054.40) scale(0.9498,1)" font-family="Liberation Sans" font-size="10.97" fill="#1c1c1c" stroke="#1c1c1c" stroke-width="0.35">Q4</text>
<line x1="540.10" y1="1049.50" x2="555.70" y2="1049.50" stroke="#C068C2" stroke-width="1.6"/>
<line x1="547.90" y1="1045.70" x2="547.90" y2="1053.30" stroke="#C068C2" stroke-width="1.6"/>
<text transform="translate(563.25,1054.40) scale(0.9594,1)" font-family="Liberation Sans" font-size="10.97" fill="#1c1c1c" stroke="#1c1c1c" stroke-width="0.35">Q5</text>
<path d="M67.00,1078.20 V1301.40 H829.20" fill="none" stroke="#1c1c1c" stroke-width="1.6"/>
<line x1="63.20" y1="1089.00" x2="67.00" y2="1089.00" stroke="#1c1c1c" stroke-width="1.4"/>
<text transform="translate(60.10,1094.15) scale(0.9325,1)" font-family="Liberation Sans" font-size="14.34" fill="#1c1c1c" stroke="#1c1c1c" stroke-width="0.35" text-anchor="end">1.00</text>
<line x1="63.20" y1="1139.40" x2="67.00" y2="1139.40" stroke="#1c1c1c" stroke-width="1.4"/>
<text transform="translate(60.10,1144.55) scale(0.9325,1)" font-family="Liberation Sans" font-size="14.34" fill="#1c1c1c" stroke="#1c1c1c" stroke-width="0.35" text-anchor="end">0.75</text>
<line x1="63.20" y1="1190.10" x2="67.00" y2="1190.10" stroke="#1c1c1c" stroke-width="1.4"/>
<text transform="translate(60.10,1195.25) scale(0.9325,1)" font-family="Liberation Sans" font-size="14.34" fill="#1c1c1c" stroke="#1c1c1c" stroke-width="0.35" text-anchor="end">0.50</text>
<line x1="63.20" y1="1240.70" x2="67.00" y2="1240.70" stroke="#1c1c1c" stroke-width="1.4"/>
<text transform="translate(60.10,1245.85) scale(0.9325,1)" font-family="Liberation Sans" font-size="14.34" fill="#1c1c1c" stroke="#1c1c1c" stroke-width="0.35" text-anchor="end">0.25</text>
<line x1="63.20" y1="1291.40" x2="67.00" y2="1291.40" stroke="#1c1c1c" stroke-width="1.4"/>
<text transform="translate(60.10,1296.55) scale(0.9325,1)" font-family="Liberation Sans" font-size="14.34" fill="#1c1c1c" stroke="#1c1c1c" stroke-width="0.35" text-anchor="end">0.00</text>
<line x1="100.70" y1="1301.40" x2="100.70" y2="1304.60" stroke="#1c1c1c" stroke-width="1.4"/>
<text transform="translate(100.70,1318.60) scale(0.9238,1)" font-family="Liberation Sans" font-size="14.48" fill="#1c1c1c" stroke="#1c1c1c" stroke-width="0.35" text-anchor="middle">0</text>
<line x1="274.10" y1="1301.40" x2="274.10" y2="1304.60" stroke="#1c1c1c" stroke-width="1.4"/>
<text transform="translate(274.10,1318.60) scale(0.9238,1)" font-family="Liberation Sans" font-size="14.48" fill="#1c1c1c" stroke="#1c1c1c" stroke-width="0.35" text-anchor="middle">25</text>
<line x1="448.20" y1="1301.40" x2="448.20" y2="1304.60" stroke="#1c1c1c" stroke-width="1.4"/>
<text transform="translate(448.20,1318.60) scale(0.9238,1)" font-family="Liberation Sans" font-size="14.48" fill="#1c1c1c" stroke="#1c1c1c" stroke-width="0.35" text-anchor="middle">50</text>
<line x1="621.40" y1="1301.40" x2="621.40" y2="1304.60" stroke="#1c1c1c" stroke-width="1.4"/>
<text transform="translate(621.40,1318.60) scale(0.9238,1)" font-family="Liberation Sans" font-size="14.48" fill="#1c1c1c" stroke="#1c1c1c" stroke-width="0.35" text-anchor="middle">75</text>
<line x1="794.60" y1="1301.40" x2="794.60" y2="1304.60" stroke="#1c1c1c" stroke-width="1.4"/>
<text transform="translate(794.60,1318.60) scale(0.9238,1)" font-family="Liberation Sans" font-size="14.48" fill="#1c1c1c" stroke="#1c1c1c" stroke-width="0.35" text-anchor="middle">100</text>
<text transform="translate(432.40,1334.40) scale(0.9476,1)" font-family="Liberation Sans" font-size="14.29" fill="#1c1c1c" stroke="#1c1c1c" stroke-width="0.35">Time</text>
<text transform="translate(26.86,1249.63) rotate(-90) scale(1.2451,1)" font-family="Liberation Sans" font-size="11.26" fill="#1c1c1c" stroke="#1c1c1c" stroke-width="0.35">Survival porbability</text>
<text transform="translate(112.56,1257.90) scale(1.0458,1)" font-family="Liberation Sans" font-size="15.34" fill="#1c1c1c" stroke="#1c1c1c" stroke-width="0.35">p = 0.0017</text>
<path d="M100.70,1089.00H102.32V1089.36H103.94V1089.73H105.55V1090.09H107.17V1090.45H108.79V1090.82H110.41V1091.18H112.03V1091.55H113.65V1091.91H115.26V1092.27H116.88V1092.64H118.50V1093.00H120.07V1093.53H121.63V1094.07H123.20V1094.60H124.77V1095.13H126.33V1095.67H127.90V1096.20H129.47V1096.73H131.03V1097.27H132.60V1097.80H134.17V1098.33H135.73V1098.87H137.30V1099.40H138.87V1099.93H140.43V1100.47H142.00V1101.00H143.69V1102.43H145.37V1103.86H147.06V1105.29H148.74V1106.71H150.43V1108.14H152.11V1109.57H153.80V1111.00H155.49V1111.53H157.17V1112.06H158.86V1112.59H160.54V1113.11H162.23V1113.64H163.91V1114.17H165.60V1114.70H167.23V1115.19H168.85V1115.67H170.48V1116.16H172.11V1116.65H173.73V1117.13H175.36V1117.62H176.99V1118.11H178.61V1118.59H180.24V1119.08H181.87V1119.57H183.49V1120.05H185.12V1120.54H186.75V1121.03H188.37V1121.51H190.00V1122.00H191.56V1122.39H193.12V1122.78H194.69V1123.16H196.25V1123.55H197.81V1123.94H199.38V1124.33H200.94V1124.71H202.50V1125.10H204.06V1125.49H205.62V1125.88H207.19V1126.26H208.75V1126.65H210.31V1127.04H211.88V1127.42H213.44V1127.81H215.00V1128.20H216.58V1128.29H218.16V1128.39H219.74V1128.48H221.32V1128.58H222.89V1128.67H224.47V1128.77H226.05V1128.86H227.63V1128.96H229.21V1129.05H230.79V1129.15H232.37V1129.24H233.95V1129.34H235.53V1129.43H237.11V1129.53H238.68V1129.62H240.26V1129.72H241.84V1129.81H243.42V1129.91H245.00V1130.00H246.51V1130.17H248.03V1130.34H249.54V1130.51H251.06V1130.69H252.57V1130.86H254.09V1131.03H255.60V1131.20H255.60V1133.50H262.60V1136.50H269.70V1139.30H317.00V1146.50H383.20V1149.10H415.00V1153.80H462.90V1158.50H494.70V1167.90H514.70V1173.30H532.00V1177.60H723.90V1177.60" fill="none" stroke="#EA6C62" stroke-width="1.25"/>
<path d="M101.98,1090.90h7.2M105.58,1086.90v8M106.86,1091.99h7.2M110.46,1087.99v8M111.74,1093.09h7.2M115.34,1089.09v8M116.56,1094.37h7.2M120.16,1090.37v8M121.30,1095.98h7.2M124.90,1091.98v8M126.03,1097.59h7.2M129.63,1093.59v8M130.76,1099.20h7.2M134.36,1095.20v8M135.50,1100.81h7.2M139.10,1096.81v8M139.87,1103.05h7.2M143.47,1099.05v8M143.69,1106.28h7.2M147.29,1102.28v8M147.50,1109.51h7.2M151.10,1105.51v8M151.60,1112.24h7.2M155.20,1108.24v8M156.37,1113.73h7.2M159.97,1109.73v8M161.14,1115.23h7.2M164.74,1111.23v8M165.93,1116.67h7.2M169.53,1112.67v8M170.72,1118.11h7.2M174.32,1114.11v8M175.51,1119.54h7.2M179.11,1115.54v8M180.30,1120.97h7.2M183.90,1116.97v8M185.09,1122.41h7.2M188.69,1118.41v8M189.92,1123.67h7.2M193.52,1119.67v8M194.78,1124.88h7.2M198.38,1120.88v8M199.63,1126.08h7.2M203.23,1122.08v8M204.48,1127.28h7.2M208.08,1123.28v8M209.33,1128.49h7.2M212.93,1124.49v8M214.27,1129.17h7.2M217.87,1125.17v8M219.90,1129.47h7.2M223.50,1125.47v8M225.80,1129.85h7.2M229.40,1125.85v8M229.90,1130.04h7.2M233.50,1126.04v8M235.20,1130.42h7.2M238.80,1126.42v8M239.90,1130.71h7.2M243.50,1126.71v8M247.00,1131.31h7.2M250.60,1127.31v8M261.10,1137.30h7.2M264.70,1133.30v8M269.40,1140.10h7.2M273.00,1136.10v8M274.00,1140.10h7.2M277.60,1136.10v8M262.60,1137.30h7.2M266.20,1133.30v8M270.80,1140.10h7.2M274.40,1136.10v8M275.50,1140.10h7.2M279.10,1136.10v8M280.20,1140.10h7.2M283.80,1136.10v8M281.10,1140.10h7.2M284.70,1136.10v8M296.40,1140.10h7.2M300.00,1136.10v8M298.80,1140.10h7.2M302.40,1136.10v8M303.50,1140.10h7.2M307.10,1136.10v8M308.20,1140.10h7.2M311.80,1136.10v8M317.00,1147.30h7.2M320.60,1143.30v8M325.80,1147.30h7.2M329.40,1143.30v8M337.00,1147.30h7.2M340.60,1143.30v8M343.20,1147.30h7.2M346.80,1143.30v8M402.60,1149.90h7.2M406.20,1145.90v8M417.30,1154.60h7.2M420.90,1150.60v8M429.00,1154.60h7.2M432.60,1150.60v8M430.50,1154.60h7.2M434.10,1150.60v8M471.70,1159.30h7.2M475.30,1155.30v8M481.70,1159.30h7.2M485.30,1155.30v8M488.20,1159.30h7.2M491.80,1155.30v8M531.20,1178.40h7.2M534.80,1174.40v8M720.30,1178.40h7.2M723.90,1174.40v8" fill="none" stroke="#EA6C62" stroke-width="1.7"/>
<path d="M100.70,1089.00H102.28V1089.38H103.85V1089.75H105.42V1090.12H107.00V1090.50H108.64V1090.83H110.29V1091.16H111.93V1091.49H113.57V1091.81H115.21V1092.14H116.86V1092.47H118.50V1092.80H120.19V1093.23H121.87V1093.66H123.56V1094.09H125.24V1094.51H126.93V1094.94H128.61V1095.37H130.30V1095.80H131.97V1096.21H133.64V1096.63H135.31V1097.04H136.99V1097.46H138.66V1097.87H140.33V1098.29H142.00V1098.70H143.69V1099.54H145.37V1100.39H147.06V1101.23H148.74V1102.07H150.43V1102.91H152.11V1103.76H153.80V1104.60H155.49V1105.19H157.17V1105.77H158.86V1106.36H160.54V1106.94H162.23V1107.53H163.91V1108.11H165.60V1108.70H167.29V1109.54H168.97V1110.39H170.66V1111.23H172.34V1112.07H174.03V1112.91H175.71V1113.76H177.40V1114.60H179.07V1115.27H180.74V1115.94H182.41V1116.61H184.09V1117.29H185.76V1117.96H187.43V1118.63H189.10V1119.30H190.71V1119.62H192.32V1119.95H193.92V1120.27H195.53V1120.59H197.14V1120.92H198.75V1121.24H200.35V1121.56H201.96V1121.88H203.57V1122.21H205.18V1122.53H206.78V1122.85H208.39V1123.18H210.00V1123.50H211.56V1123.58H213.12V1123.65H214.69V1123.72H216.25V1123.80H217.81V1123.88H219.38V1123.95H220.94V1124.03H222.50V1124.10H224.06V1124.17H225.62V1124.25H227.19V1124.33H228.75V1124.40H230.31V1124.48H231.88V1124.55H233.44V1124.62H235.00V1124.70H236.56V1124.81H238.12V1124.92H239.69V1125.04H241.25V1125.15H242.81V1125.26H244.38V1125.38H245.94V1125.49H247.50V1125.60H249.06V1125.71H250.62V1125.83H252.19V1125.94H253.75V1126.05H255.31V1126.16H256.88V1126.28H258.44V1126.39H260.00V1126.50H261.61V1126.50H263.23V1126.50H264.84V1126.50H266.46V1126.50H268.07V1126.50H269.69V1126.50H271.30V1126.50H272.91V1126.50H274.53V1126.50H276.14V1126.50H277.76V1126.50H279.37V1126.50H280.99V1126.50H282.60V1126.50H282.60V1130.60H311.80V1133.50H317.00V1137.60H319.40V1141.20H363.30V1144.50H382.00V1149.10H397.40V1152.10H406.80V1156.20H448.80V1160.10H463.50V1163.80H471.20V1167.60H633.60V1171.90H650.50V1176.30H691.40V1180.20H723.90V1180.20" fill="none" stroke="#A6A22A" stroke-width="1.25"/>
<path d="M100.99,1090.73h7.2M104.59,1086.73v8M104.89,1091.60h7.2M108.49,1087.60v8M108.82,1092.38h7.2M112.42,1088.38v8M112.74,1093.17h7.2M116.34,1089.17v8M116.64,1094.04h7.2M120.24,1090.04v8M120.52,1095.03h7.2M124.12,1091.03v8M124.39,1096.01h7.2M127.99,1092.01v8M128.27,1096.99h7.2M131.87,1092.99v8M132.16,1097.95h7.2M135.76,1093.95v8M136.04,1098.91h7.2M139.64,1094.91v8M139.80,1100.20h7.2M143.40,1096.20v8M143.38,1101.99h7.2M146.98,1097.99v8M146.96,1103.78h7.2M150.56,1099.78v8M150.55,1105.52h7.2M154.15,1101.52v8M154.33,1106.84h7.2M157.93,1102.84v8M158.11,1108.15h7.2M161.71,1104.15v8M161.89,1109.46h7.2M165.49,1105.46v8M165.47,1111.24h7.2M169.07,1107.24v8M169.05,1113.02h7.2M172.65,1109.02v8M172.63,1114.81h7.2M176.23,1110.81v8M176.30,1116.40h7.2M179.90,1112.40v8M180.01,1117.89h7.2M183.61,1113.89v8M183.72,1119.38h7.2M187.32,1115.38v8M187.54,1120.51h7.2M191.14,1116.51v8M191.46,1121.30h7.2M195.06,1117.30v8M195.38,1122.09h7.2M198.98,1118.09v8M199.30,1122.87h7.2M202.90,1118.87v8M203.23,1123.66h7.2M206.83,1119.66v8M207.16,1124.34h7.2M210.76,1120.34v8M211.16,1124.53h7.2M214.76,1120.53v8M215.15,1124.72h7.2M218.75,1120.72v8M219.15,1124.91h7.2M222.75,1120.91v8M223.14,1125.10h7.2M226.74,1121.10v8M227.14,1125.30h7.2M230.74,1121.30v8M231.13,1125.49h7.2M234.73,1121.49v8M239.90,1126.06h7.2M243.50,1122.06v8M244.60,1126.40h7.2M248.20,1122.40v8M249.90,1126.74h7.2M253.50,1122.74v8M261.10,1127.30h7.2M264.70,1123.30v8M264.00,1127.30h7.2M267.60,1123.30v8M281.70,1131.40h7.2M285.30,1127.40v8M290.50,1131.40h7.2M294.10,1127.40v8M321.70,1142.00h7.2M325.30,1138.00v8M386.10,1149.90h7.2M389.70,1145.90v8M408.50,1157.00h7.2M412.10,1153.00v8M464.00,1164.60h7.2M467.60,1160.60v8M720.30,1181.00h7.2M723.90,1177.00v8" fill="none" stroke="#A6A22A" stroke-width="1.7"/>
<path d="M100.70,1089.00H102.32V1089.55H103.94V1090.09H105.55V1090.64H107.17V1091.18H108.79V1091.73H110.41V1092.27H112.03V1092.82H113.65V1093.36H115.26V1093.91H116.88V1094.45H118.50V1095.00H120.07V1095.57H121.63V1096.13H123.20V1096.70H124.77V1097.27H126.33V1097.83H127.90V1098.40H129.47V1098.97H131.03V1099.53H132.60V1100.10H134.17V1100.67H135.73V1101.23H137.30V1101.80H138.87V1102.37H140.43V1102.93H142.00V1103.50H143.57V1104.52H145.15V1105.54H146.72V1106.56H148.29V1107.58H149.87V1108.60H151.44V1109.62H153.01V1110.64H154.59V1111.66H156.16V1112.68H157.73V1113.70H159.31V1114.72H160.88V1115.74H162.45V1116.76H164.03V1117.78H165.60V1118.80H167.29V1119.26H168.97V1119.71H170.66V1120.17H172.34V1120.63H174.03V1121.09H175.71V1121.54H177.40V1122.00H179.07V1122.43H180.74V1122.86H182.41V1123.29H184.09V1123.71H185.76V1124.14H187.43V1124.57H189.10V1125.00H190.71V1125.54H192.32V1126.08H193.92V1126.62H195.53V1127.15H197.14V1127.69H198.75V1128.23H200.35V1128.77H201.96V1129.31H203.57V1129.85H205.18V1130.38H206.78V1130.92H208.39V1131.46H210.00V1132.00H211.58V1132.79H213.16V1133.58H214.74V1134.37H216.32V1135.16H217.89V1135.95H219.47V1136.74H221.05V1137.53H222.63V1138.32H224.21V1139.11H225.79V1139.89H227.37V1140.68H228.95V1141.47H230.53V1142.26H232.11V1143.05H233.68V1143.84H235.26V1144.63H236.84V1145.42H238.42V1146.21H240.00V1147.00H241.58V1147.37H243.16V1147.74H244.74V1148.11H246.32V1148.47H247.89V1148.84H249.47V1149.21H251.05V1149.58H252.63V1149.95H254.21V1150.32H255.79V1150.68H257.37V1151.05H258.95V1151.42H260.53V1151.79H262.11V1152.16H263.68V1152.53H265.26V1152.89H266.84V1153.26H268.42V1153.63H270.00V1154.00H271.58V1154.32H273.16V1154.63H274.74V1154.95H276.32V1155.26H277.89V1155.58H279.47V1155.89H281.05V1156.21H282.63V1156.53H284.21V1156.84H285.79V1157.16H287.37V1157.47H288.95V1157.79H290.53V1158.11H292.11V1158.42H293.68V1158.74H295.26V1159.05H296.84V1159.37H298.42V1159.68H300.00V1160.00H301.67V1160.39H303.33V1160.78H305.00V1161.17H306.67V1161.57H308.33V1161.96H310.00V1162.35H311.67V1162.74H313.33V1163.13H315.00V1163.53H316.67V1163.92H318.33V1164.31H320.00V1164.70H321.67V1165.01H323.33V1165.32H325.00V1165.62H326.67V1165.93H328.33V1166.24H330.00V1166.55H331.67V1166.86H333.33V1167.17H335.00V1167.48H336.67V1167.78H338.33V1168.09H340.00V1168.40H405.60V1174.40H430.00V1175.40H454.70V1179.10H495.90V1182.60H513.50V1186.60H605.40V1191.10H649.00V1194.90H696.40V1198.90H717.50V1204.80H723.90V1204.80" fill="none" stroke="#25AD74" stroke-width="1.25"/>
<path d="M101.65,1091.33h7.2M105.25,1087.33v8M106.20,1092.87h7.2M109.80,1088.87v8M110.75,1094.40h7.2M114.35,1090.40v8M115.29,1095.94h7.2M118.89,1091.94v8M119.80,1097.57h7.2M123.40,1093.57v8M124.32,1099.21h7.2M127.92,1095.21v8M128.83,1100.84h7.2M132.43,1096.84v8M133.35,1102.47h7.2M136.95,1098.47v8M137.86,1104.10h7.2M141.46,1100.10v8M141.95,1106.60h7.2M145.55,1102.60v8M145.97,1109.21h7.2M149.57,1105.21v8M150.00,1111.82h7.2M153.60,1107.82v8M154.03,1114.43h7.2M157.63,1110.43v8M158.06,1117.04h7.2M161.66,1113.04v8M162.10,1119.63h7.2M165.70,1115.63v8M166.73,1120.88h7.2M170.33,1116.88v8M171.36,1122.14h7.2M174.96,1118.14v8M176.00,1123.36h7.2M179.60,1119.36v8M180.65,1124.56h7.2M184.25,1120.56v8M185.30,1125.75h7.2M188.90,1121.75v8M189.86,1127.26h7.2M193.46,1123.26v8M194.41,1128.78h7.2M198.01,1124.78v8M198.96,1130.31h7.2M202.56,1126.31v8M203.51,1131.83h7.2M207.11,1127.83v8M207.97,1133.58h7.2M211.57,1129.58v8M212.26,1135.73h7.2M215.86,1131.73v8M216.56,1137.88h7.2M220.16,1133.88v8M220.85,1140.02h7.2M224.45,1136.02v8M225.14,1142.17h7.2M228.74,1138.17v8M229.44,1144.32h7.2M233.04,1140.32v8M233.73,1146.46h7.2M237.33,1142.46v8M238.17,1148.21h7.2M241.77,1144.21v8M242.84,1149.30h7.2M246.44,1145.30v8M247.51,1150.39h7.2M251.11,1146.39v8M252.19,1151.48h7.2M255.79,1147.48v8M256.86,1152.57h7.2M260.46,1148.57v8M261.54,1153.67h7.2M265.14,1149.67v8M266.21,1154.76h7.2M269.81,1150.76v8M270.92,1155.70h7.2M274.52,1151.70v8M275.63,1156.65h7.2M279.23,1152.65v8M280.33,1157.59h7.2M283.93,1153.59v8M285.04,1158.53h7.2M288.64,1154.53v8M289.75,1159.47h7.2M293.35,1155.47v8M294.45,1160.41h7.2M298.05,1156.41v8M299.14,1161.44h7.2M302.74,1157.44v8M303.81,1162.54h7.2M307.41,1158.54v8M308.48,1163.64h7.2M312.08,1159.64v8M313.16,1164.74h7.2M316.76,1160.74v8M317.84,1165.77h7.2M321.44,1161.77v8M322.56,1166.64h7.2M326.16,1162.64v8M327.28,1167.51h7.2M330.88,1163.51v8M332.00,1168.39h7.2M335.60,1164.39v8M360.80,1169.20h7.2M364.40,1165.20v8M367.90,1169.20h7.2M371.50,1165.20v8M382.00,1169.20h7.2M385.60,1165.20v8M427.60,1176.20h7.2M431.20,1172.20v8M453.50,1179.90h7.2M457.10,1175.90v8M461.10,1179.90h7.2M464.70,1175.90v8M478.80,1179.90h7.2M482.40,1175.90v8M483.50,1179.90h7.2M487.10,1175.90v8M622.30,1191.90h7.2M625.90,1187.90v8M720.30,1205.60h7.2M723.90,1201.60v8" fill="none" stroke="#25AD74" stroke-width="1.7"/>
<path d="M100.70,1089.00H102.28V1089.75H103.85V1090.50H105.42V1091.25H107.00V1092.00H108.64V1092.97H110.29V1093.94H111.93V1094.91H113.57V1095.89H115.21V1096.86H116.86V1097.83H118.50V1098.80H120.19V1099.61H121.87V1100.43H123.56V1101.24H125.24V1102.06H126.93V1102.87H128.61V1103.69H130.30V1104.50H131.97V1105.29H133.64V1106.07H135.31V1106.86H136.99V1107.64H138.66V1108.43H140.33V1109.21H142.00V1110.00H143.69V1111.50H145.37V1113.00H147.06V1114.50H148.74V1116.00H150.43V1117.50H152.11V1119.00H153.80V1120.50H155.49V1121.29H157.17V1122.07H158.86V1122.86H160.54V1123.64H162.23V1124.43H163.91V1125.21H165.60V1126.00H167.20V1126.38H168.80V1126.76H170.40V1127.13H172.00V1127.51H173.60V1127.89H175.20V1128.27H176.80V1128.64H178.40V1129.02H180.00V1129.40H181.58V1129.77H183.16V1130.15H184.74V1130.52H186.32V1130.89H187.89V1131.27H189.47V1131.64H191.05V1132.02H192.63V1132.39H194.21V1132.76H195.79V1133.14H197.37V1133.51H198.95V1133.88H200.53V1134.26H202.11V1134.63H203.68V1135.01H205.26V1135.38H206.84V1135.75H208.42V1136.13H210.00V1136.50H211.67V1137.00H213.33V1137.50H215.00V1138.00H216.67V1138.50H218.33V1139.00H220.00V1139.50H221.67V1140.00H223.33V1140.50H225.00V1141.00H226.67V1141.44H228.33V1141.89H230.00V1142.33H231.67V1142.78H233.33V1143.22H235.00V1143.67H236.67V1144.11H238.33V1144.56H240.00V1145.00H241.67V1145.39H243.33V1145.78H245.00V1146.17H246.67V1146.56H248.33V1146.94H250.00V1147.33H251.67V1147.72H253.33V1148.11H255.00V1148.50H256.67V1148.89H258.33V1149.28H260.00V1149.67H261.67V1150.06H263.33V1150.44H265.00V1150.83H266.67V1151.22H268.33V1151.61H270.00V1152.00H271.50V1152.44H273.00V1152.88H274.50V1153.31H276.00V1153.75H277.50V1154.19H279.00V1154.62H280.50V1155.06H282.00V1155.50H283.64V1155.69H285.27V1155.88H286.91V1156.07H288.55V1156.26H290.18V1156.45H291.82V1156.65H293.45V1156.84H295.09V1157.03H296.73V1157.22H298.36V1157.41H300.00V1157.60H301.57V1157.90H303.14V1158.20H304.71V1158.50H306.29V1158.80H307.86V1159.10H309.43V1159.40H311.00V1159.70H312.57V1160.00H314.14V1160.30H315.71V1160.60H317.29V1160.90H318.86V1161.20H320.43V1161.50H322.00V1161.80H323.57V1161.88H325.14V1161.96H326.72V1162.03H328.29V1162.11H329.86V1162.19H331.43V1162.27H333.01V1162.34H334.58V1162.42H336.15V1162.50H337.72V1162.58H339.29V1162.66H340.87V1162.73H342.44V1162.81H344.01V1162.89H345.58V1162.97H347.16V1163.04H348.73V1163.12H350.30V1163.20H350.30V1166.20H426.80V1169.60H455.90V1175.40H495.30V1178.50H521.80V1181.50H527.60V1185.60H532.00V1187.50H538.40V1191.80H560.20V1195.10H723.90V1195.10" fill="none" stroke="#22A8E6" stroke-width="1.25"/>
<path d="M100.89,1091.61h7.2M104.49,1087.61v8M104.62,1093.52h7.2M108.22,1089.52v8M108.24,1095.66h7.2M111.84,1091.66v8M111.85,1097.80h7.2M115.45,1093.80v8M115.50,1099.89h7.2M119.10,1095.89v8M119.28,1101.71h7.2M122.88,1097.71v8M123.06,1103.54h7.2M126.66,1099.54v8M126.84,1105.37h7.2M130.44,1101.37v8M130.64,1107.15h7.2M134.24,1103.15v8M134.44,1108.94h7.2M138.04,1104.94v8M138.25,1110.73h7.2M141.85,1106.73v8M141.41,1113.48h7.2M145.01,1109.48v8M144.55,1116.27h7.2M148.15,1112.27v8M147.69,1119.06h7.2M151.29,1115.06v8M150.96,1121.65h7.2M154.56,1117.65v8M154.76,1123.43h7.2M158.36,1119.43v8M158.57,1125.20h7.2M162.17,1121.20v8M162.40,1126.90h7.2M166.00,1122.90v8M166.49,1127.86h7.2M170.09,1123.86v8M170.58,1128.83h7.2M174.18,1124.83v8M174.67,1129.79h7.2M178.27,1125.79v8M178.75,1130.76h7.2M182.35,1126.76v8M182.84,1131.72h7.2M186.44,1127.72v8M186.93,1132.69h7.2M190.53,1128.69v8M191.02,1133.66h7.2M194.62,1129.66v8M195.10,1134.63h7.2M198.70,1130.63v8M199.19,1135.59h7.2M202.79,1131.59v8M203.28,1136.56h7.2M206.88,1132.56v8M207.35,1137.58h7.2M210.95,1133.58v8M211.37,1138.79h7.2M214.97,1134.79v8M215.39,1140.00h7.2M218.99,1136.00v8M219.42,1141.21h7.2M223.02,1137.21v8M223.46,1142.35h7.2M227.06,1138.35v8M227.52,1143.43h7.2M231.12,1139.43v8M231.57,1144.51h7.2M235.17,1140.51v8M235.63,1145.60h7.2M239.23,1141.60v8M239.72,1146.57h7.2M243.32,1142.57v8M243.81,1147.53h7.2M247.41,1143.53v8M247.90,1148.48h7.2M251.50,1144.48v8M251.99,1149.44h7.2M255.59,1145.44v8M256.08,1150.39h7.2M259.68,1146.39v8M260.17,1151.35h7.2M263.77,1147.35v8M264.26,1152.30h7.2M267.86,1148.30v8M268.32,1153.36h7.2M271.92,1149.36v8M272.35,1154.54h7.2M275.95,1150.54v8M276.38,1155.71h7.2M279.98,1151.71v8M280.49,1156.54h7.2M284.09,1152.54v8M284.66,1157.03h7.2M288.26,1153.03v8M288.83,1157.52h7.2M292.43,1153.52v8M293.00,1158.00h7.2M296.60,1154.00v8M297.16,1158.55h7.2M300.76,1154.55v8M301.29,1159.33h7.2M304.89,1155.33v8M305.42,1160.12h7.2M309.02,1156.12v8M309.54,1160.91h7.2M313.14,1156.91v8M313.67,1161.70h7.2M317.27,1157.70v8M317.79,1162.48h7.2M321.39,1158.48v8M321.98,1162.78h7.2M325.58,1158.78v8M326.17,1162.98h7.2M329.77,1158.98v8M330.37,1163.19h7.2M333.97,1159.19v8M334.56,1163.40h7.2M338.16,1159.40v8M338.76,1163.61h7.2M342.36,1159.61v8M342.95,1163.81h7.2M346.55,1159.81v8M361.40,1167.00h7.2M365.00,1163.00v8M386.10,1167.00h7.2M389.70,1163.00v8M389.00,1167.00h7.2M392.60,1163.00v8M392.00,1167.00h7.2M395.60,1163.00v8M394.90,1167.00h7.2M398.50,1163.00v8M399.60,1167.00h7.2M403.20,1163.00v8M407.90,1167.00h7.2M411.50,1163.00v8M437.00,1170.40h7.2M440.60,1166.40v8M441.70,1170.40h7.2M445.30,1166.40v8M450.50,1170.40h7.2M454.10,1166.40v8M586.30,1195.90h7.2M589.90,1191.90v8M613.10,1195.90h7.2M616.70,1191.90v8M720.30,1195.90h7.2M723.90,1191.90v8" fill="none" stroke="#22A8E6" stroke-width="1.7"/>
<path d="M100.70,1089.00H102.28V1089.75H103.85V1090.50H105.42V1091.25H107.00V1092.00H108.64V1094.07H110.29V1096.14H111.93V1098.21H113.57V1100.29H115.21V1102.36H116.86V1104.43H118.50V1106.50H120.19V1107.33H121.87V1108.16H123.56V1108.99H125.24V1109.81H126.93V1110.64H128.61V1111.47H130.30V1112.30H131.97V1113.23H133.64V1114.16H135.31V1115.09H136.99V1116.01H138.66V1116.94H140.33V1117.87H142.00V1118.80H143.69V1119.90H145.37V1121.00H147.06V1122.10H148.74V1123.20H150.43V1124.30H152.11V1125.40H153.80V1126.50H155.49V1127.33H157.17V1128.16H158.86V1128.99H160.54V1129.81H162.23V1130.64H163.91V1131.47H165.60V1132.30H167.20V1132.89H168.80V1133.48H170.40V1134.07H172.00V1134.66H173.60V1135.24H175.20V1135.83H176.80V1136.42H178.40V1137.01H180.00V1137.60H181.67V1138.31H183.33V1139.02H185.00V1139.73H186.67V1140.44H188.33V1141.16H190.00V1141.87H191.67V1142.58H193.33V1143.29H195.00V1144.00H196.67V1144.61H198.33V1145.22H200.00V1145.83H201.67V1146.44H203.33V1147.06H205.00V1147.67H206.67V1148.28H208.33V1148.89H210.00V1149.50H211.67V1150.17H213.33V1150.83H215.00V1151.50H216.67V1152.17H218.33V1152.83H220.00V1153.50H221.67V1154.17H223.33V1154.83H225.00V1155.50H226.67V1156.17H228.33V1156.83H230.00V1157.50H231.67V1158.17H233.33V1158.83H235.00V1159.50H236.67V1160.17H238.33V1160.83H240.00V1161.50H241.67V1162.17H243.33V1162.83H245.00V1163.50H246.67V1164.17H248.33V1164.83H250.00V1165.50H251.67V1165.87H253.33V1166.23H255.00V1166.60H256.67V1166.97H258.33V1167.33H260.00V1167.70H261.67V1168.07H263.33V1168.43H265.00V1168.80H266.67V1168.91H268.33V1169.02H270.00V1169.13H271.67V1169.24H273.33V1169.36H275.00V1169.47H276.67V1169.58H278.33V1169.69H280.00V1169.80H281.67V1169.90H283.33V1170.00H285.00V1170.10H286.67V1170.20H288.33V1170.30H290.00V1170.40H291.67V1170.63H293.33V1170.87H295.00V1171.10H296.67V1171.33H298.33V1171.57H300.00V1171.80H301.67V1171.99H303.33V1172.18H305.00V1172.38H306.67V1172.57H308.33V1172.76H310.00V1172.95H311.67V1173.14H313.33V1173.33H315.00V1173.52H316.67V1173.72H318.33V1173.91H320.00V1174.10H321.67V1174.20H323.33V1174.30H325.00V1174.40H326.67V1174.50H328.33V1174.60H330.00V1174.70H331.67V1174.80H333.33V1174.90H335.00V1175.00H336.67V1175.10H338.33V1175.20H340.00V1175.30H341.64V1175.38H343.28V1175.45H344.93V1175.53H346.57V1175.60H348.21V1175.67H349.85V1175.75H351.49V1175.83H353.13V1175.90H354.77V1175.97H356.42V1176.05H358.06V1176.12H359.70V1176.20H359.70V1179.10H378.50V1181.50H454.70V1186.80H468.80V1193.20H504.10V1196.80H523.50V1200.20H532.00V1203.00H572.90V1207.70H723.90V1207.70" fill="none" stroke="#C068C2" stroke-width="1.25"/>
<path d="M101.43,1091.86h7.2M105.03,1087.86v8M105.03,1094.85h7.2M108.63,1090.85v8M108.01,1098.62h7.2M111.61,1094.62v8M110.99,1102.38h7.2M114.59,1098.38v8M113.98,1106.14h7.2M117.58,1102.14v8M117.88,1108.76h7.2M121.48,1104.76v8M122.18,1110.88h7.2M125.78,1106.88v8M126.49,1113.00h7.2M130.09,1109.00v8M130.69,1115.32h7.2M134.29,1111.32v8M134.89,1117.65h7.2M138.49,1113.65v8M139.06,1120.03h7.2M142.66,1116.03v8M143.08,1122.65h7.2M146.68,1118.65v8M147.10,1125.27h7.2M150.70,1121.27v8M151.18,1127.78h7.2M154.78,1123.78v8M155.49,1129.90h7.2M159.09,1125.90v8M159.80,1132.02h7.2M163.40,1128.02v8M164.20,1133.91h7.2M167.80,1129.91v8M168.70,1135.57h7.2M172.30,1131.57v8M173.21,1137.23h7.2M176.81,1133.23v8M177.69,1138.95h7.2M181.29,1134.95v8M182.10,1140.83h7.2M185.70,1136.83v8M186.52,1142.72h7.2M190.12,1138.72v8M190.93,1144.60h7.2M194.53,1140.60v8M195.43,1146.28h7.2M199.03,1142.28v8M199.94,1147.93h7.2M203.54,1143.93v8M204.44,1149.58h7.2M208.04,1145.58v8M208.92,1151.31h7.2M212.52,1147.31v8M213.38,1153.09h7.2M216.98,1149.09v8M217.83,1154.87h7.2M221.43,1150.87v8M222.29,1156.66h7.2M225.89,1152.66v8M226.75,1158.44h7.2M230.35,1154.44v8M231.20,1160.22h7.2M234.80,1156.22v8M235.66,1162.00h7.2M239.26,1158.00v8M240.12,1163.79h7.2M243.72,1159.79v8M244.57,1165.57h7.2M248.17,1161.57v8M249.17,1166.91h7.2M252.77,1162.91v8M253.86,1167.94h7.2M257.46,1163.94v8M258.54,1168.97h7.2M262.14,1164.97v8M263.27,1169.72h7.2M266.87,1165.72v8M268.06,1170.04h7.2M271.66,1166.04v8M272.85,1170.36h7.2M276.45,1166.36v8M277.64,1170.67h7.2M281.24,1166.67v8M282.43,1170.96h7.2M286.03,1166.96v8M287.22,1171.31h7.2M290.82,1167.31v8M291.97,1171.98h7.2M295.57,1167.98v8M296.72,1172.64h7.2M300.32,1168.64v8M301.49,1173.19h7.2M305.09,1169.19v8M306.26,1173.73h7.2M309.86,1169.73v8M311.03,1174.28h7.2M314.63,1170.28v8M315.80,1174.83h7.2M319.40,1170.83v8M320.59,1175.15h7.2M324.19,1171.15v8M325.38,1175.44h7.2M328.98,1171.44v8M330.17,1175.73h7.2M333.77,1171.73v8M334.96,1176.01h7.2M338.56,1172.01v8M339.75,1176.25h7.2M343.35,1172.25v8M344.55,1176.47h7.2M348.15,1172.47v8M349.34,1176.69h7.2M352.94,1172.69v8M354.14,1176.91h7.2M357.74,1172.91v8M373.20,1179.90h7.2M376.80,1175.90v8M376.70,1182.30h7.2M380.30,1178.30v8M380.80,1182.30h7.2M384.40,1178.30v8M387.30,1182.30h7.2M390.90,1178.30v8M422.00,1182.30h7.2M425.60,1178.30v8M477.60,1194.00h7.2M481.20,1190.00v8M499.30,1194.00h7.2M502.90,1190.00v8M593.40,1208.50h7.2M597.00,1204.50v8M627.90,1208.50h7.2M631.50,1204.50v8M720.30,1208.50h7.2M723.90,1204.50v8" fill="none" stroke="#C068C2" stroke-width="1.7"/>
<text transform="translate(66.29,1361.50) scale(1.1058,1)" font-family="Liberation Sans" font-size="12.20" fill="#1c1c1c" stroke="#1c1c1c" stroke-width="0.35">Number at risk</text>
<path d="M67.20,1371.10 V1437.50 H829.20" fill="none" stroke="#1c1c1c" stroke-width="1.6"/>
<line x1="63.40" y1="1378.10" x2="67.20" y2="1378.10" stroke="#1c1c1c" stroke-width="1.4"/>
<text transform="translate(60.30,1381.70) scale(1.0513,1)" font-family="Liberation Sans" font-size="12.76" fill="#EA6C62" stroke="#EA6C62" stroke-width="0.35" text-anchor="end">Q1</text>
<text transform="translate(100.70,1385.20) scale(0.9383,1)" font-family="Liberation Sans" font-size="14.48" fill="#EA6C62" stroke="#EA6C62" stroke-width="0.35" text-anchor="middle">273</text>
<text transform="translate(274.10,1385.20) scale(0.9383,1)" font-family="Liberation Sans" font-size="14.48" fill="#EA6C62" stroke="#EA6C62" stroke-width="0.35" text-anchor="middle">53</text>
<text transform="translate(448.20,1385.20) scale(0.9383,1)" font-family="Liberation Sans" font-size="14.48" fill="#EA6C62" stroke="#EA6C62" stroke-width="0.35" text-anchor="middle">31</text>
<text transform="translate(621.40,1385.20) scale(0.9383,1)" font-family="Liberation Sans" font-size="14.48" fill="#EA6C62" stroke="#EA6C62" stroke-width="0.35" text-anchor="middle">22</text>
<text transform="translate(794.60,1385.20) scale(0.9383,1)" font-family="Liberation Sans" font-size="14.48" fill="#EA6C62" stroke="#EA6C62" stroke-width="0.35" text-anchor="middle">0</text>
<line x1="63.40" y1="1391.00" x2="67.20" y2="1391.00" stroke="#1c1c1c" stroke-width="1.4"/>
<text transform="translate(60.30,1394.60) scale(1.0513,1)" font-family="Liberation Sans" font-size="12.76" fill="#A6A22A" stroke="#A6A22A" stroke-width="0.35" text-anchor="end">Q2</text>
<text transform="translate(100.70,1398.10) scale(0.9383,1)" font-family="Liberation Sans" font-size="14.48" fill="#A6A22A" stroke="#A6A22A" stroke-width="0.35" text-anchor="middle">273</text>
<text transform="translate(274.10,1398.10) scale(0.9383,1)" font-family="Liberation Sans" font-size="14.48" fill="#A6A22A" stroke="#A6A22A" stroke-width="0.35" text-anchor="middle">48</text>
<text transform="translate(448.20,1398.10) scale(0.9383,1)" font-family="Liberation Sans" font-size="14.48" fill="#A6A22A" stroke="#A6A22A" stroke-width="0.35" text-anchor="middle">34</text>
<text transform="translate(621.40,1398.10) scale(0.9383,1)" font-family="Liberation Sans" font-size="14.48" fill="#A6A22A" stroke="#A6A22A" stroke-width="0.35" text-anchor="middle">30</text>
<text transform="translate(794.60,1398.10) scale(0.9383,1)" font-family="Liberation Sans" font-size="14.48" fill="#A6A22A" stroke="#A6A22A" stroke-width="0.35" text-anchor="middle">0</text>
<line x1="63.40" y1="1403.90" x2="67.20" y2="1403.90" stroke="#1c1c1c" stroke-width="1.4"/>
<text transform="translate(60.30,1407.50) scale(1.0513,1)" font-family="Liberation Sans" font-size="12.76" fill="#25AD74" stroke="#25AD74" stroke-width="0.35" text-anchor="end">Q3</text>
<text transform="translate(100.70,1411.00) scale(0.9383,1)" font-family="Liberation Sans" font-size="14.48" fill="#25AD74" stroke="#25AD74" stroke-width="0.35" text-anchor="middle">273</text>
<text transform="translate(274.10,1411.00) scale(0.9383,1)" font-family="Liberation Sans" font-size="14.48" fill="#25AD74" stroke="#25AD74" stroke-width="0.35" text-anchor="middle">56</text>
<text transform="translate(448.20,1411.00) scale(0.9383,1)" font-family="Liberation Sans" font-size="14.48" fill="#25AD74" stroke="#25AD74" stroke-width="0.35" text-anchor="middle">32</text>
<text transform="translate(621.40,1411.00) scale(0.9383,1)" font-family="Liberation Sans" font-size="14.48" fill="#25AD74" stroke="#25AD74" stroke-width="0.35" text-anchor="middle">24</text>
<text transform="translate(794.60,1411.00) scale(0.9383,1)" font-family="Liberation Sans" font-size="14.48" fill="#25AD74" stroke="#25AD74" stroke-width="0.35" text-anchor="middle">0</text>
<line x1="63.40" y1="1416.80" x2="67.20" y2="1416.80" stroke="#1c1c1c" stroke-width="1.4"/>
<text transform="translate(60.30,1420.40) scale(1.0513,1)" font-family="Liberation Sans" font-size="12.76" fill="#22A8E6" stroke="#22A8E6" stroke-width="0.35" text-anchor="end">Q4</text>
<text transform="translate(100.70,1423.90) scale(0.9383,1)" font-family="Liberation Sans" font-size="14.48" fill="#22A8E6" stroke="#22A8E6" stroke-width="0.35" text-anchor="middle">273</text>
<text transform="translate(274.10,1423.90) scale(0.9383,1)" font-family="Liberation Sans" font-size="14.48" fill="#22A8E6" stroke="#22A8E6" stroke-width="0.35" text-anchor="middle">66</text>
<text transform="translate(448.20,1423.90) scale(0.9383,1)" font-family="Liberation Sans" font-size="14.48" fill="#22A8E6" stroke="#22A8E6" stroke-width="0.35" text-anchor="middle">36</text>
<text transform="translate(621.40,1423.90) scale(0.9383,1)" font-family="Liberation Sans" font-size="14.48" fill="#22A8E6" stroke="#22A8E6" stroke-width="0.35" text-anchor="middle">27</text>
<text transform="translate(794.60,1423.90) scale(0.9383,1)" font-family="Liberation Sans" font-size="14.48" fill="#22A8E6" stroke="#22A8E6" stroke-width="0.35" text-anchor="middle">0</text>
<line x1="63.40" y1="1429.70" x2="67.20" y2="1429.70" stroke="#1c1c1c" stroke-width="1.4"/>
<text transform="translate(60.30,1433.30) scale(1.0513,1)" font-family="Liberation Sans" font-size="12.76" fill="#C068C2" stroke="#C068C2" stroke-width="0.35" text-anchor="end">Q5</text>
<text transform="translate(100.70,1436.80) scale(0.9383,1)" font-family="Liberation Sans" font-size="14.48" fill="#C068C2" stroke="#C068C2" stroke-width="0.35" text-anchor="middle">273</text>
<text transform="translate(274.10,1436.80) scale(0.9383,1)" font-family="Liberation Sans" font-size="14.48" fill="#C068C2" stroke="#C068C2" stroke-width="0.35" text-anchor="middle">72</text>
<text transform="translate(448.20,1436.80) scale(0.9383,1)" font-family="Liberation Sans" font-size="14.48" fill="#C068C2" stroke="#C068C2" stroke-width="0.35" text-anchor="middle">35</text>
<text transform="translate(621.40,1436.80) scale(0.9383,1)" font-family="Liberation Sans" font-size="14.48" fill="#C068C2" stroke="#C068C2" stroke-width="0.35" text-anchor="middle">24</text>
<text transform="translate(794.60,1436.80) scale(0.9383,1)" font-family="Liberation Sans" font-size="14.48" fill="#C068C2" stroke="#C068C2" stroke-width="0.35" text-anchor="middle">0</text>
<line x1="100.70" y1="1437.50" x2="100.70" y2="1440.70" stroke="#1c1c1c" stroke-width="1.4"/>
<text transform="translate(100.70,1455.40) scale(0.9238,1)" font-family="Liberation Sans" font-size="14.48" fill="#1c1c1c" stroke="#1c1c1c" stroke-width="0.35" text-anchor="middle">0</text>
<line x1="274.10" y1="1437.50" x2="274.10" y2="1440.70" stroke="#1c1c1c" stroke-width="1.4"/>
<text transform="translate(274.10,1455.40) scale(0.9238,1)" font-family="Liberation Sans" font-size="14.48" fill="#1c1c1c" stroke="#1c1c1c" stroke-width="0.35" text-anchor="middle">25</text>
<line x1="448.20" y1="1437.50" x2="448.20" y2="1440.70" stroke="#1c1c1c" stroke-width="1.4"/>
<text transform="translate(448.20,1455.40) scale(0.9238,1)" font-family="Liberation Sans" font-size="14.48" fill="#1c1c1c" stroke="#1c1c1c" stroke-width="0.35" text-anchor="middle">50</text>
<line x1="621.40" y1="1437.50" x2="621.40" y2="1440.70" stroke="#1c1c1c" stroke-width="1.4"/>
<text transform="translate(621.40,1455.40) scale(0.9238,1)" font-family="Liberation Sans" font-size="14.48" fill="#1c1c1c" stroke="#1c1c1c" stroke-width="0.35" text-anchor="middle">75</text>
<line x1="794.60" y1="1437.50" x2="794.60" y2="1440.70" stroke="#1c1c1c" stroke-width="1.4"/>
<text transform="translate(794.60,1455.40) scale(0.9238,1)" font-family="Liberation Sans" font-size="14.48" fill="#1c1c1c" stroke="#1c1c1c" stroke-width="0.35" text-anchor="middle">100</text>
<text transform="translate(28.89,1417.62) rotate(-90) scale(1.2330,1)" font-family="Liberation Sans" font-size="10.19" fill="#1c1c1c" stroke="#1c1c1c" stroke-width="0.35">pivQ</text>
<text transform="translate(28.43,1510.50) scale(0.9692,1)" font-family="Liberation Serif" font-size="26.56" fill="#1c1c1c" stroke="#1c1c1c" stroke-width="0">D</text>
<text transform="translate(330.35,1574.40) scale(1.1339,1)" font-family="Liberation Sans" font-size="10.85" fill="#1c1c1c" stroke="#1c1c1c" stroke-width="0.35">pivQ</text>
<line x1="366.30" y1="1570.00" x2="381.90" y2="1570.00" stroke="#EA6C62" stroke-width="1.6"/>
<line x1="374.10" y1="1566.20" x2="374.10" y2="1573.80" stroke="#EA6C62" stroke-width="1.6"/>
<text transform="translate(390.35,1574.40) scale(0.9652,1)" font-family="Liberation Sans" font-size="10.97" fill="#1c1c1c" stroke="#1c1c1c" stroke-width="0.35">Q1</text>
<line x1="413.50" y1="1570.00" x2="429.10" y2="1570.00" stroke="#A6A22A" stroke-width="1.6"/>
<line x1="421.30" y1="1566.20" x2="421.30" y2="1573.80" stroke="#A6A22A" stroke-width="1.6"/>
<text transform="translate(437.65,1574.40) scale(0.9671,1)" font-family="Liberation Sans" font-size="10.97" fill="#1c1c1c" stroke="#1c1c1c" stroke-width="0.35">Q2</text>
<line x1="460.40" y1="1570.00" x2="476.00" y2="1570.00" stroke="#25AD74" stroke-width="1.6"/>
<line x1="468.20" y1="1566.20" x2="468.20" y2="1573.80" stroke="#25AD74" stroke-width="1.6"/>
<text transform="translate(484.35,1574.40) scale(0.9613,1)" font-family="Liberation Sans" font-size="10.97" fill="#1c1c1c" stroke="#1c1c1c" stroke-width="0.35">Q3</text>
<line x1="507.60" y1="1570.00" x2="523.20" y2="1570.00" stroke="#22A8E6" stroke-width="1.6"/>
<line x1="515.40" y1="1566.20" x2="515.40" y2="1573.80" stroke="#22A8E6" stroke-width="1.6"/>
<text transform="translate(530.96,1574.40) scale(0.9498,1)" font-family="Liberation Sans" font-size="10.97" fill="#1c1c1c" stroke="#1c1c1c" stroke-width="0.35">Q4</text>
<line x1="554.50" y1="1570.00" x2="570.10" y2="1570.00" stroke="#C068C2" stroke-width="1.6"/>
<line x1="562.30" y1="1566.20" x2="562.30" y2="1573.80" stroke="#C068C2" stroke-width="1.6"/>
<text transform="translate(578.25,1574.40) scale(0.9594,1)" font-family="Liberation Sans" font-size="10.97" fill="#1c1c1c" stroke="#1c1c1c" stroke-width="0.35">Q5</text>
<path d="M81.60,1598.20 V1821.40 H843.80" fill="none" stroke="#1c1c1c" stroke-width="1.6"/>
<line x1="77.80" y1="1609.00" x2="81.60" y2="1609.00" stroke="#1c1c1c" stroke-width="1.4"/>
<text transform="translate(74.40,1614.80) scale(0.8582,1)" font-family="Liberation Sans" font-size="15.20" fill="#1c1c1c" stroke="#1c1c1c" stroke-width="0.35" text-anchor="end">1.00</text>
<line x1="77.80" y1="1659.60" x2="81.60" y2="1659.60" stroke="#1c1c1c" stroke-width="1.4"/>
<text transform="translate(74.40,1665.40) scale(0.8582,1)" font-family="Liberation Sans" font-size="15.20" fill="#1c1c1c" stroke="#1c1c1c" stroke-width="0.35" text-anchor="end">0.75</text>
<line x1="77.80" y1="1710.10" x2="81.60" y2="1710.10" stroke="#1c1c1c" stroke-width="1.4"/>
<text transform="translate(74.40,1715.90) scale(0.8582,1)" font-family="Liberation Sans" font-size="15.20" fill="#1c1c1c" stroke="#1c1c1c" stroke-width="0.35" text-anchor="end">0.50</text>
<line x1="77.80" y1="1760.70" x2="81.60" y2="1760.70" stroke="#1c1c1c" stroke-width="1.4"/>
<text transform="translate(74.40,1766.50) scale(0.8582,1)" font-family="Liberation Sans" font-size="15.20" fill="#1c1c1c" stroke="#1c1c1c" stroke-width="0.35" text-anchor="end">0.25</text>
<line x1="77.80" y1="1811.40" x2="81.60" y2="1811.40" stroke="#1c1c1c" stroke-width="1.4"/>
<text transform="translate(74.40,1817.20) scale(0.8582,1)" font-family="Liberation Sans" font-size="15.20" fill="#1c1c1c" stroke="#1c1c1c" stroke-width="0.35" text-anchor="end">0.00</text>
<line x1="115.30" y1="1821.40" x2="115.30" y2="1824.60" stroke="#1c1c1c" stroke-width="1.4"/>
<text transform="translate(115.30,1838.60) scale(0.9719,1)" font-family="Liberation Sans" font-size="13.76" fill="#1c1c1c" stroke="#1c1c1c" stroke-width="0.35" text-anchor="middle">0</text>
<line x1="288.40" y1="1821.40" x2="288.40" y2="1824.60" stroke="#1c1c1c" stroke-width="1.4"/>
<text transform="translate(288.40,1838.60) scale(0.9719,1)" font-family="Liberation Sans" font-size="13.76" fill="#1c1c1c" stroke="#1c1c1c" stroke-width="0.35" text-anchor="middle">100</text>
<line x1="462.80" y1="1821.40" x2="462.80" y2="1824.60" stroke="#1c1c1c" stroke-width="1.4"/>
<text transform="translate(462.80,1838.60) scale(0.9719,1)" font-family="Liberation Sans" font-size="13.76" fill="#1c1c1c" stroke="#1c1c1c" stroke-width="0.35" text-anchor="middle">200</text>
<line x1="635.80" y1="1821.40" x2="635.80" y2="1824.60" stroke="#1c1c1c" stroke-width="1.4"/>
<text transform="translate(635.80,1838.60) scale(0.9719,1)" font-family="Liberation Sans" font-size="13.76" fill="#1c1c1c" stroke="#1c1c1c" stroke-width="0.35" text-anchor="middle">300</text>
<line x1="809.20" y1="1821.40" x2="809.20" y2="1824.60" stroke="#1c1c1c" stroke-width="1.4"/>
<text transform="translate(809.20,1838.60) scale(0.9719,1)" font-family="Liberation Sans" font-size="13.76" fill="#1c1c1c" stroke="#1c1c1c" stroke-width="0.35" text-anchor="middle">400</text>
<text transform="translate(447.70,1854.60) scale(0.9565,1)" font-family="Liberation Sans" font-size="13.86" fill="#1c1c1c" stroke="#1c1c1c" stroke-width="0.35">Time</text>
<text transform="translate(41.06,1769.63) rotate(-90) scale(1.2451,1)" font-family="Liberation Sans" font-size="11.26" fill="#1c1c1c" stroke="#1c1c1c" stroke-width="0.35">Survival porbability</text>
<text transform="translate(128.25,1777.90) scale(1.0489,1)" font-family="Liberation Sans" font-size="15.34" fill="#1c1c1c" stroke="#1c1c1c" stroke-width="0.35">p = 0.0009</text>
<path d="M115.30,1609.00H116.87V1611.67H118.43V1614.33H120.00V1617.00H121.50V1619.00H123.00V1621.00H124.50V1623.00H126.00V1625.00H127.75V1627.50H129.50V1630.00H131.25V1632.50H133.00V1635.00H134.75V1637.50H136.50V1640.00H138.25V1642.50H140.00V1645.00H141.67V1646.17H143.33V1647.33H145.00V1648.50H146.67V1649.67H148.33V1650.83H150.00V1652.00H151.57V1653.00H153.14V1654.00H154.71V1655.00H156.29V1656.00H157.86V1657.00H159.43V1658.00H161.00V1659.00H162.57V1660.14H164.14V1661.29H165.71V1662.43H167.29V1663.57H168.86V1664.71H170.43V1665.86H172.00V1667.00H173.64V1667.57H175.29V1668.14H176.93V1668.71H178.57V1669.29H180.21V1669.86H181.86V1670.43H183.50V1671.00H185.14V1671.57H186.79V1672.14H188.43V1672.71H190.07V1673.29H191.71V1673.86H193.36V1674.43H195.00V1675.00H196.67V1675.63H198.33V1676.27H200.00V1676.90H201.67V1677.53H203.33V1678.17H205.00V1678.80H206.70V1678.80H208.40V1678.80H210.10V1678.80H211.80V1678.80H213.50V1678.80H213.50V1688.20H220.60V1694.70H223.00V1698.20H293.20V1702.90H301.50V1708.20H305.00V1714.70H312.00V1718.80H356.50V1724.10H378.80V1730.00H487.00V1734.70H524.70V1740.60H602.00V1745.20H697.00V1751.00H747.40V1751.00" fill="none" stroke="#EA6C62" stroke-width="1.25"/>
<path d="M115.25,1615.84h7.2M118.85,1611.84v8M117.13,1618.78h7.2M120.73,1614.78v8M119.23,1621.58h7.2M122.83,1617.58v8M121.33,1624.38h7.2M124.93,1620.38v8M123.39,1627.21h7.2M126.99,1623.21v8M125.39,1630.08h7.2M128.99,1626.08v8M127.40,1632.94h7.2M131.00,1628.94v8M129.41,1635.81h7.2M133.01,1631.81v8M131.42,1638.68h7.2M135.02,1634.68v8M133.42,1641.55h7.2M137.02,1637.55v8M135.43,1644.41h7.2M139.03,1640.41v8M137.88,1646.84h7.2M141.48,1642.84v8M140.75,1648.84h7.2M144.35,1644.84v8M143.90,1650.47h7.2M147.50,1646.47v8M146.40,1652.80h7.2M150.00,1648.80v8M148.40,1653.80h7.2M152.00,1649.80v8M151.40,1655.80h7.2M155.00,1651.80v8M155.40,1657.80h7.2M159.00,1653.80v8M159.40,1660.94h7.2M163.00,1656.94v8M163.90,1664.37h7.2M167.50,1660.37v8M167.40,1666.66h7.2M171.00,1662.66v8M171.40,1668.37h7.2M175.00,1664.37v8M174.40,1669.51h7.2M178.00,1665.51v8M184.40,1672.94h7.2M188.00,1668.94v8M188.40,1674.66h7.2M192.00,1670.66v8M192.90,1675.80h7.2M196.50,1671.80v8M197.40,1677.70h7.2M201.00,1673.70v8M205.20,1679.60h7.2M208.80,1675.60v8M208.80,1679.60h7.2M212.40,1675.60v8M211.10,1689.00h7.2M214.70,1685.00v8M219.90,1699.00h7.2M223.50,1695.00v8M299.60,1709.00h7.2M303.20,1705.00v8M743.80,1751.80h7.2M747.40,1747.80v8" fill="none" stroke="#EA6C62" stroke-width="1.7"/>
<path d="M115.30,1609.00H116.65V1612.00H118.00V1615.00H119.45V1616.25H120.90V1617.50H122.35V1618.75H123.80V1620.00H125.37V1621.67H126.93V1623.33H128.50V1625.00H130.07V1626.67H131.63V1628.33H133.20V1630.00H134.67V1632.75H136.15V1635.50H137.62V1638.25H139.10V1641.00H140.82V1642.00H142.55V1643.00H144.28V1644.00H146.00V1645.00H147.50V1645.12H149.00V1645.25H150.50V1645.38H152.00V1645.50H153.50V1645.62H155.00V1645.75H156.50V1645.88H158.00V1646.00H159.54V1646.96H161.08V1647.92H162.62V1648.88H164.16V1649.84H165.70V1650.80H169.10V1659.30H184.00V1665.60H189.70V1673.40H201.80V1685.30H205.30V1687.60H248.50V1691.80H253.20V1696.50H263.80V1700.00H272.60V1704.10H276.20V1708.20H314.40V1712.40H331.50V1717.10H361.20V1724.80H410.60V1728.80H450.60V1733.50H455.30V1737.00H569.50V1741.50H640.00V1745.90H661.70V1750.30H697.00V1751.00H747.40V1751.00" fill="none" stroke="#A6A22A" stroke-width="1.25"/>
<path d="M116.23,1617.38h7.2M119.83,1613.38v8M118.51,1619.34h7.2M122.11,1615.34v8M120.72,1621.36h7.2M124.32,1617.36v8M122.78,1623.54h7.2M126.38,1619.54v8M124.83,1625.73h7.2M128.43,1621.73v8M126.89,1627.91h7.2M130.49,1623.91v8M128.94,1630.10h7.2M132.54,1626.10v8M130.56,1632.60h7.2M134.16,1628.60v8M131.98,1635.24h7.2M135.58,1631.24v8M133.40,1637.88h7.2M137.00,1633.88v8M134.82,1640.53h7.2M138.42,1636.53v8M136.85,1642.58h7.2M140.45,1638.58v8M139.44,1644.08h7.2M143.04,1640.08v8M142.04,1645.59h7.2M145.64,1641.59v8M144.97,1646.01h7.2M148.57,1642.01v8M147.96,1646.26h7.2M151.56,1642.26v8M150.95,1646.51h7.2M154.55,1642.51v8M153.94,1646.76h7.2M157.54,1642.76v8M157.90,1648.72h7.2M161.50,1644.72v8M160.20,1649.68h7.2M163.80,1645.68v8M172.40,1660.10h7.2M176.00,1656.10v8M188.80,1674.20h7.2M192.40,1670.20v8M202.90,1688.40h7.2M206.50,1684.40v8M743.80,1751.80h7.2M747.40,1747.80v8" fill="none" stroke="#A6A22A" stroke-width="1.7"/>
<path d="M115.30,1609.00H116.87V1612.33H118.43V1615.67H120.00V1619.00H121.70V1621.30H123.40V1623.60H125.10V1625.90H126.80V1628.20H128.50V1630.50H130.50V1635.25H132.50V1640.00H134.00V1642.62H135.50V1645.25H137.00V1647.88H138.50V1650.50H140.33V1653.83H142.17V1657.17H144.00V1660.50H145.75V1662.75H147.50V1665.00H149.25V1667.25H151.00V1669.50H152.60V1670.90H154.20V1672.30H155.80V1673.70H157.40V1675.10H159.00V1676.50H160.56V1677.22H162.11V1677.94H163.67V1678.67H165.22V1679.39H166.78V1680.11H168.33V1680.83H169.89V1681.56H171.44V1682.28H173.00V1683.00H174.55V1683.45H176.09V1683.91H177.64V1684.36H179.18V1684.82H180.73V1685.27H182.27V1685.73H183.82V1686.18H185.36V1686.64H186.91V1687.09H188.45V1687.55H190.00V1688.00H191.57V1688.93H193.14V1689.86H194.71V1690.79H196.29V1691.71H197.86V1692.64H199.43V1693.57H201.00V1694.50H202.70V1695.30H204.40V1696.10H206.10V1696.90H207.80V1697.70H209.50V1698.50H211.23V1698.80H212.97V1699.10H214.70V1699.40H214.70V1704.10H219.00V1707.00H243.00V1711.20H252.60V1715.30H263.80V1719.40H269.70V1724.10H289.10V1727.60H309.70V1732.40H329.70V1736.50H360.00V1740.60H364.70V1745.80H444.70V1750.00H481.20V1754.00H522.40V1759.40H535.30V1762.90H542.70V1767.20H585.00V1772.00H635.90V1776.20H714.90V1776.80H747.40V1776.80" fill="none" stroke="#25AD74" stroke-width="1.25"/>
<path d="M114.68,1616.14h7.2M118.28,1612.14v8M116.17,1619.30h7.2M119.77,1615.30v8M118.15,1622.17h7.2M121.75,1618.17v8M120.23,1624.99h7.2M123.83,1620.99v8M122.31,1627.80h7.2M125.91,1623.80v8M124.39,1630.62h7.2M127.99,1626.62v8M125.93,1633.74h7.2M129.53,1629.74v8M127.29,1636.97h7.2M130.89,1632.97v8M128.64,1640.19h7.2M132.24,1636.19v8M130.31,1643.27h7.2M133.91,1639.27v8M132.05,1646.31h7.2M135.65,1642.31v8M133.78,1649.35h7.2M137.38,1645.35v8M135.50,1652.39h7.2M139.10,1648.39v8M137.19,1655.46h7.2M140.79,1651.46v8M138.88,1658.53h7.2M142.48,1654.53v8M140.61,1661.57h7.2M144.21,1657.57v8M142.76,1664.33h7.2M146.36,1660.33v8M144.90,1667.09h7.2M148.50,1663.09v8M147.05,1669.85h7.2M150.65,1665.85v8M149.61,1672.23h7.2M153.21,1668.23v8M152.24,1674.54h7.2M155.84,1670.54v8M154.88,1676.84h7.2M158.48,1672.84v8M157.94,1678.48h7.2M161.54,1674.48v8M161.12,1679.95h7.2M164.72,1675.95v8M164.29,1681.43h7.2M167.89,1677.43v8M167.47,1682.90h7.2M171.07,1678.90v8M170.71,1684.19h7.2M174.31,1680.19v8M174.07,1685.17h7.2M177.67,1681.17v8M177.43,1686.16h7.2M181.03,1682.16v8M180.79,1687.15h7.2M184.39,1683.15v8M184.14,1688.14h7.2M187.74,1684.14v8M187.39,1689.38h7.2M190.99,1685.38v8M190.40,1691.17h7.2M194.00,1687.17v8M193.42,1692.95h7.2M197.02,1688.95v8M196.43,1694.73h7.2M200.03,1690.73v8M199.55,1696.31h7.2M203.15,1692.31v8M201.70,1696.90h7.2M205.30,1692.90v8M207.60,1699.30h7.2M211.20,1695.30v8M242.90,1712.00h7.2M246.50,1708.00v8M743.80,1777.60h7.2M747.40,1773.60v8" fill="none" stroke="#25AD74" stroke-width="1.7"/>
<path d="M115.30,1609.00H116.87V1612.67H118.43V1616.33H120.00V1620.00H121.70V1622.00H123.40V1624.00H125.10V1626.00H126.80V1628.00H128.50V1630.00H130.12V1632.95H131.75V1635.90H133.38V1638.85H135.00V1641.80H136.52V1644.14H138.04V1646.48H139.56V1648.82H141.08V1651.16H142.60V1653.50H144.14V1655.86H145.68V1658.22H147.22V1660.58H148.76V1662.94H150.30V1665.30H151.93V1667.65H153.55V1670.00H155.18V1672.35H156.80V1674.70H158.55V1676.17H160.30V1677.65H162.05V1679.12H163.80V1680.60H165.37V1681.38H166.93V1682.17H168.50V1682.95H170.07V1683.73H171.63V1684.52H173.20V1685.30H174.85V1685.47H176.50V1685.64H178.15V1685.81H179.80V1685.98H181.45V1686.15H183.10V1686.32H184.75V1686.49H186.40V1686.66H188.05V1686.83H189.70V1687.00H191.31V1687.89H192.93V1688.77H194.54V1689.66H196.16V1690.54H197.77V1691.43H199.39V1692.31H201.00V1693.20H202.70V1694.04H204.40V1694.88H206.10V1695.72H207.80V1696.56H209.50V1697.40H211.09V1697.51H212.67V1697.63H214.26V1697.74H215.84V1697.86H217.43V1697.97H219.01V1698.09H220.60V1698.20H220.60V1701.80H223.00V1708.80H230.00V1715.30H289.70V1718.60H329.10V1723.00H364.70V1725.30H385.90V1728.80H397.60V1735.90H407.10V1739.40H437.60V1742.90H445.90V1746.50H455.30V1750.00H476.50V1757.10H490.60V1761.50H550.00V1765.00H624.60V1767.80H635.90V1772.00H695.20V1775.70H714.90V1779.00H747.40V1779.00" fill="none" stroke="#22A8E6" stroke-width="1.25"/>
<path d="M115.24,1618.08h7.2M118.84,1614.08v8M116.42,1620.83h7.2M120.02,1616.83v8M118.37,1623.11h7.2M121.97,1619.11v8M120.31,1625.40h7.2M123.91,1621.40v8M122.25,1627.69h7.2M125.85,1623.69v8M124.20,1629.97h7.2M127.80,1625.97v8M125.82,1632.48h7.2M129.42,1628.48v8M127.27,1635.10h7.2M130.87,1631.10v8M128.72,1637.73h7.2M132.32,1633.73v8M130.17,1640.36h7.2M133.77,1636.36v8M131.64,1642.97h7.2M135.24,1638.97v8M133.27,1645.49h7.2M136.87,1641.49v8M134.91,1648.00h7.2M138.51,1644.00v8M136.54,1650.52h7.2M140.14,1646.52v8M138.18,1653.03h7.2M141.78,1649.03v8M139.81,1655.55h7.2M143.41,1651.55v8M141.45,1658.06h7.2M145.05,1654.06v8M143.09,1660.57h7.2M146.69,1656.57v8M144.73,1663.09h7.2M148.33,1659.09v8M146.37,1665.60h7.2M149.97,1661.60v8M148.07,1668.07h7.2M151.67,1664.07v8M149.77,1670.54h7.2M153.37,1666.54v8M151.48,1673.01h7.2M155.08,1669.01v8M153.18,1675.48h7.2M156.78,1671.48v8M155.47,1677.42h7.2M159.07,1673.42v8M157.77,1679.35h7.2M161.37,1675.35v8M160.06,1681.28h7.2M163.66,1677.28v8M162.72,1682.66h7.2M166.32,1678.66v8M165.40,1684.00h7.2M169.00,1680.00v8M168.09,1685.34h7.2M171.69,1681.34v8M170.90,1686.23h7.2M174.50,1682.23v8M173.88,1686.54h7.2M177.48,1682.54v8M176.87,1686.85h7.2M180.47,1682.85v8M179.85,1687.16h7.2M183.45,1683.16v8M182.84,1687.46h7.2M186.44,1683.46v8M185.82,1687.77h7.2M189.42,1683.77v8M188.48,1689.11h7.2M192.08,1685.11v8M191.11,1690.55h7.2M194.71,1686.55v8M193.74,1691.99h7.2M197.34,1687.99v8M196.37,1693.44h7.2M199.97,1689.44v8M199.04,1694.81h7.2M202.64,1690.81v8M201.73,1696.14h7.2M205.33,1692.14v8M204.42,1697.47h7.2M208.02,1693.47v8M233.40,1716.10h7.2M237.00,1712.10v8M240.50,1716.10h7.2M244.10,1712.10v8M743.80,1779.80h7.2M747.40,1775.80v8" fill="none" stroke="#22A8E6" stroke-width="1.7"/>
<path d="M115.30,1609.00H116.30V1614.00H117.65V1618.00H119.00V1622.00H120.25V1626.00H121.50V1630.00H122.95V1635.00H124.40V1640.00H126.17V1643.33H127.93V1646.67H129.70V1650.00H131.32V1652.50H132.95V1655.00H134.57V1657.50H136.20V1660.00H137.80V1662.50H139.40V1665.00H141.00V1667.50H142.60V1670.00H144.40V1673.33H146.20V1676.67H148.00V1680.00H149.60V1682.00H151.20V1684.00H152.80V1686.00H154.40V1688.00H156.18V1688.60H157.95V1689.20H159.72V1689.80H161.50V1690.40H163.19V1691.01H164.88V1691.62H166.56V1692.24H168.25V1692.85H169.94V1693.46H171.62V1694.08H173.31V1694.69H175.00V1695.30H176.67V1695.82H178.33V1696.34H180.00V1696.87H181.67V1697.39H183.33V1697.91H185.00V1698.43H186.67V1698.96H188.33V1699.48H190.00V1700.00H191.57V1700.13H193.13V1700.27H194.70V1700.40H196.27V1700.53H197.83V1700.67H199.40V1700.80H200.97V1700.93H202.53V1701.07H204.10V1701.20H204.10V1705.30H206.00V1710.00H207.50V1714.70H219.40V1717.00H220.60V1719.40H222.90V1723.00H233.50V1727.60H288.50V1730.60H302.60V1734.10H307.40V1738.20H320.00V1741.30H347.00V1745.80H354.10V1748.80H436.50V1757.10H533.00V1761.50H552.60V1767.00H662.70V1770.60H726.20V1774.80H747.40V1774.80" fill="none" stroke="#C068C2" stroke-width="1.25"/>
<path d="M114.91,1621.34h7.2M118.51,1617.34v8M115.83,1624.19h7.2M119.43,1620.19v8M116.73,1627.05h7.2M120.33,1623.05v8M117.62,1629.92h7.2M121.22,1625.92v8M118.48,1632.79h7.2M122.08,1628.79v8M119.31,1635.68h7.2M122.91,1631.68v8M120.15,1638.56h7.2M123.75,1634.56v8M121.11,1641.39h7.2M124.71,1637.39v8M122.52,1644.04h7.2M126.12,1640.04v8M123.92,1646.69h7.2M127.52,1642.69v8M125.33,1649.34h7.2M128.93,1645.34v8M126.83,1651.93h7.2M130.43,1647.93v8M128.47,1654.44h7.2M132.07,1650.44v8M130.10,1656.96h7.2M133.70,1652.96v8M131.74,1659.47h7.2M135.34,1655.47v8M133.37,1662.00h7.2M136.97,1658.00v8M134.98,1664.52h7.2M138.58,1660.52v8M136.60,1667.05h7.2M140.20,1663.05v8M138.22,1669.58h7.2M141.82,1665.58v8M139.74,1672.16h7.2M143.34,1668.16v8M141.16,1674.80h7.2M144.76,1670.80v8M142.59,1677.44h7.2M146.19,1673.44v8M144.01,1680.08h7.2M147.61,1676.08v8M145.76,1682.50h7.2M149.36,1678.50v8M147.64,1684.85h7.2M151.24,1680.85v8M149.51,1687.19h7.2M153.11,1683.19v8M151.69,1689.10h7.2M155.29,1685.10v8M154.53,1690.06h7.2M158.13,1686.06v8M157.37,1691.02h7.2M160.97,1687.02v8M160.20,1692.03h7.2M163.80,1688.03v8M163.02,1693.06h7.2M166.62,1689.06v8M165.84,1694.08h7.2M169.44,1690.08v8M168.66,1695.10h7.2M172.26,1691.10v8M171.48,1696.12h7.2M175.08,1692.12v8M174.34,1697.02h7.2M177.94,1693.02v8M177.20,1697.92h7.2M180.80,1693.92v8M180.07,1698.82h7.2M183.67,1694.82v8M182.93,1699.71h7.2M186.53,1695.71v8M185.79,1700.61h7.2M189.39,1696.61v8M188.75,1701.00h7.2M192.35,1697.00v8M191.74,1701.25h7.2M195.34,1697.25v8M194.73,1701.51h7.2M198.33,1697.51v8M197.72,1701.76h7.2M201.32,1697.76v8M205.20,1715.50h7.2M208.80,1711.50v8M212.30,1715.50h7.2M215.90,1711.50v8M235.80,1728.40h7.2M239.40,1724.40v8M244.00,1728.40h7.2M247.60,1724.40v8M246.90,1728.40h7.2M250.50,1724.40v8M743.80,1775.60h7.2M747.40,1771.60v8" fill="none" stroke="#C068C2" stroke-width="1.7"/>
<text transform="translate(80.49,1881.50) scale(1.1058,1)" font-family="Liberation Sans" font-size="12.20" fill="#1c1c1c" stroke="#1c1c1c" stroke-width="0.35">Number at risk</text>
<path d="M81.40,1891.10 V1957.30 H843.80" fill="none" stroke="#1c1c1c" stroke-width="1.6"/>
<line x1="77.60" y1="1898.10" x2="81.40" y2="1898.10" stroke="#1c1c1c" stroke-width="1.4"/>
<text transform="translate(74.50,1901.70) scale(1.0259,1)" font-family="Liberation Sans" font-size="12.76" fill="#EA6C62" stroke="#EA6C62" stroke-width="0.35" text-anchor="end">Q1</text>
<text transform="translate(115.30,1905.45) scale(0.9248,1)" font-family="Liberation Sans" font-size="14.62" fill="#EA6C62" stroke="#EA6C62" stroke-width="0.35" text-anchor="middle">273</text>
<text transform="translate(288.40,1905.45) scale(0.9248,1)" font-family="Liberation Sans" font-size="14.62" fill="#EA6C62" stroke="#EA6C62" stroke-width="0.35" text-anchor="middle">22</text>
<text transform="translate(462.80,1905.45) scale(0.9248,1)" font-family="Liberation Sans" font-size="14.62" fill="#EA6C62" stroke="#EA6C62" stroke-width="0.35" text-anchor="middle">15</text>
<text transform="translate(635.80,1905.45) scale(0.9248,1)" font-family="Liberation Sans" font-size="14.62" fill="#EA6C62" stroke="#EA6C62" stroke-width="0.35" text-anchor="middle">12</text>
<text transform="translate(809.20,1905.45) scale(0.9248,1)" font-family="Liberation Sans" font-size="14.62" fill="#EA6C62" stroke="#EA6C62" stroke-width="0.35" text-anchor="middle">0</text>
<line x1="77.60" y1="1911.00" x2="81.40" y2="1911.00" stroke="#1c1c1c" stroke-width="1.4"/>
<text transform="translate(74.50,1914.60) scale(1.0259,1)" font-family="Liberation Sans" font-size="12.76" fill="#A6A22A" stroke="#A6A22A" stroke-width="0.35" text-anchor="end">Q2</text>
<text transform="translate(115.30,1918.35) scale(0.9248,1)" font-family="Liberation Sans" font-size="14.62" fill="#A6A22A" stroke="#A6A22A" stroke-width="0.35" text-anchor="middle">273</text>
<text transform="translate(288.40,1918.35) scale(0.9248,1)" font-family="Liberation Sans" font-size="14.62" fill="#A6A22A" stroke="#A6A22A" stroke-width="0.35" text-anchor="middle">25</text>
<text transform="translate(462.80,1918.35) scale(0.9248,1)" font-family="Liberation Sans" font-size="14.62" fill="#A6A22A" stroke="#A6A22A" stroke-width="0.35" text-anchor="middle">18</text>
<text transform="translate(635.80,1918.35) scale(0.9248,1)" font-family="Liberation Sans" font-size="14.62" fill="#A6A22A" stroke="#A6A22A" stroke-width="0.35" text-anchor="middle">17</text>
<text transform="translate(809.20,1918.35) scale(0.9248,1)" font-family="Liberation Sans" font-size="14.62" fill="#A6A22A" stroke="#A6A22A" stroke-width="0.35" text-anchor="middle">0</text>
<line x1="77.60" y1="1923.90" x2="81.40" y2="1923.90" stroke="#1c1c1c" stroke-width="1.4"/>
<text transform="translate(74.50,1927.50) scale(1.0259,1)" font-family="Liberation Sans" font-size="12.76" fill="#25AD74" stroke="#25AD74" stroke-width="0.35" text-anchor="end">Q3</text>
<text transform="translate(115.30,1931.25) scale(0.9248,1)" font-family="Liberation Sans" font-size="14.62" fill="#25AD74" stroke="#25AD74" stroke-width="0.35" text-anchor="middle">273</text>
<text transform="translate(288.40,1931.25) scale(0.9248,1)" font-family="Liberation Sans" font-size="14.62" fill="#25AD74" stroke="#25AD74" stroke-width="0.35" text-anchor="middle">19</text>
<text transform="translate(462.80,1931.25) scale(0.9248,1)" font-family="Liberation Sans" font-size="14.62" fill="#25AD74" stroke="#25AD74" stroke-width="0.35" text-anchor="middle">14</text>
<text transform="translate(635.80,1931.25) scale(0.9248,1)" font-family="Liberation Sans" font-size="14.62" fill="#25AD74" stroke="#25AD74" stroke-width="0.35" text-anchor="middle">9</text>
<text transform="translate(809.20,1931.25) scale(0.9248,1)" font-family="Liberation Sans" font-size="14.62" fill="#25AD74" stroke="#25AD74" stroke-width="0.35" text-anchor="middle">0</text>
<line x1="77.60" y1="1936.80" x2="81.40" y2="1936.80" stroke="#1c1c1c" stroke-width="1.4"/>
<text transform="translate(74.50,1940.40) scale(1.0259,1)" font-family="Liberation Sans" font-size="12.76" fill="#22A8E6" stroke="#22A8E6" stroke-width="0.35" text-anchor="end">Q4</text>
<text transform="translate(115.30,1944.15) scale(0.9248,1)" font-family="Liberation Sans" font-size="14.62" fill="#22A8E6" stroke="#22A8E6" stroke-width="0.35" text-anchor="middle">273</text>
<text transform="translate(288.40,1944.15) scale(0.9248,1)" font-family="Liberation Sans" font-size="14.62" fill="#22A8E6" stroke="#22A8E6" stroke-width="0.35" text-anchor="middle">27</text>
<text transform="translate(462.80,1944.15) scale(0.9248,1)" font-family="Liberation Sans" font-size="14.62" fill="#22A8E6" stroke="#22A8E6" stroke-width="0.35" text-anchor="middle">17</text>
<text transform="translate(635.80,1944.15) scale(0.9248,1)" font-family="Liberation Sans" font-size="14.62" fill="#22A8E6" stroke="#22A8E6" stroke-width="0.35" text-anchor="middle">11</text>
<text transform="translate(809.20,1944.15) scale(0.9248,1)" font-family="Liberation Sans" font-size="14.62" fill="#22A8E6" stroke="#22A8E6" stroke-width="0.35" text-anchor="middle">0</text>
<line x1="77.60" y1="1949.70" x2="81.40" y2="1949.70" stroke="#1c1c1c" stroke-width="1.4"/>
<text transform="translate(74.50,1953.30) scale(1.0259,1)" font-family="Liberation Sans" font-size="12.76" fill="#C068C2" stroke="#C068C2" stroke-width="0.35" text-anchor="end">Q5</text>
<text transform="translate(115.30,1957.05) scale(0.9248,1)" font-family="Liberation Sans" font-size="14.62" fill="#C068C2" stroke="#C068C2" stroke-width="0.35" text-anchor="middle">273</text>
<text transform="translate(288.40,1957.05) scale(0.9248,1)" font-family="Liberation Sans" font-size="14.62" fill="#C068C2" stroke="#C068C2" stroke-width="0.35" text-anchor="middle">23</text>
<text transform="translate(462.80,1957.05) scale(0.9248,1)" font-family="Liberation Sans" font-size="14.62" fill="#C068C2" stroke="#C068C2" stroke-width="0.35" text-anchor="middle">15</text>
<text transform="translate(635.80,1957.05) scale(0.9248,1)" font-family="Liberation Sans" font-size="14.62" fill="#C068C2" stroke="#C068C2" stroke-width="0.35" text-anchor="middle">12</text>
<text transform="translate(809.20,1957.05) scale(0.9248,1)" font-family="Liberation Sans" font-size="14.62" fill="#C068C2" stroke="#C068C2" stroke-width="0.35" text-anchor="middle">0</text>
<line x1="115.30" y1="1957.30" x2="115.30" y2="1960.50" stroke="#1c1c1c" stroke-width="1.4"/>
<text transform="translate(115.30,1975.60) scale(0.9719,1)" font-family="Liberation Sans" font-size="13.76" fill="#1c1c1c" stroke="#1c1c1c" stroke-width="0.35" text-anchor="middle">0</text>
<line x1="288.40" y1="1957.30" x2="288.40" y2="1960.50" stroke="#1c1c1c" stroke-width="1.4"/>
<text transform="translate(288.40,1975.60) scale(0.9719,1)" font-family="Liberation Sans" font-size="13.76" fill="#1c1c1c" stroke="#1c1c1c" stroke-width="0.35" text-anchor="middle">100</text>
<line x1="462.80" y1="1957.30" x2="462.80" y2="1960.50" stroke="#1c1c1c" stroke-width="1.4"/>
<text transform="translate(462.80,1975.60) scale(0.9719,1)" font-family="Liberation Sans" font-size="13.76" fill="#1c1c1c" stroke="#1c1c1c" stroke-width="0.35" text-anchor="middle">200</text>
<line x1="635.80" y1="1957.30" x2="635.80" y2="1960.50" stroke="#1c1c1c" stroke-width="1.4"/>
<text transform="translate(635.80,1975.60) scale(0.9719,1)" font-family="Liberation Sans" font-size="13.76" fill="#1c1c1c" stroke="#1c1c1c" stroke-width="0.35" text-anchor="middle">300</text>
<line x1="809.20" y1="1957.30" x2="809.20" y2="1960.50" stroke="#1c1c1c" stroke-width="1.4"/>
<text transform="translate(809.20,1975.60) scale(0.9719,1)" font-family="Liberation Sans" font-size="13.76" fill="#1c1c1c" stroke="#1c1c1c" stroke-width="0.35" text-anchor="middle">400</text>
<text transform="translate(42.54,1937.62) rotate(-90) scale(1.3311,1)" font-family="Liberation Sans" font-size="9.44" fill="#1c1c1c" stroke="#1c1c1c" stroke-width="0.35">pivQ</text>
</svg></body></html>
